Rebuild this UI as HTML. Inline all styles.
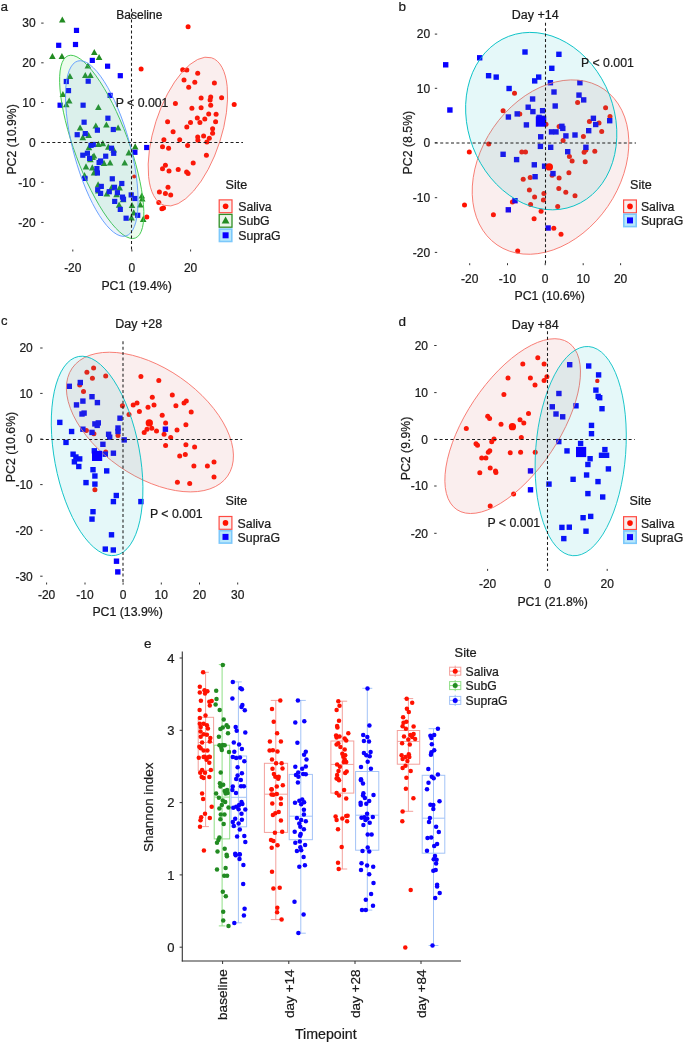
<!DOCTYPE html>
<html><head><meta charset="utf-8"><style>
html,body{margin:0;padding:0;background:#fff;width:685px;height:1043px;overflow:hidden}
text{font-family:"Liberation Sans", sans-serif;stroke:#1a1a1a;stroke-width:0.22px}
</style></head><body>
<svg width="685" height="1043" viewBox="0 0 685 1043" style="position:absolute;left:0;top:0;will-change:transform" font-family='"Liberation Sans", sans-serif'>
<rect width="685" height="1043" fill="#ffffff"/>
<text x="0.6" y="11.0" font-size="13.5" text-anchor="start" fill="#1a1a1a">a</text>
<circle cx="188.1" cy="26.8" r="2.5" fill="#ff1100"/>
<circle cx="141.1" cy="69.1" r="2.5" fill="#ff1100"/>
<circle cx="182.7" cy="69.7" r="2.5" fill="#ff1100"/>
<circle cx="186.8" cy="70.1" r="2.5" fill="#ff1100"/>
<circle cx="197.7" cy="73.2" r="2.5" fill="#ff1100"/>
<circle cx="184.0" cy="80.1" r="2.5" fill="#ff1100"/>
<circle cx="194.8" cy="82.2" r="2.5" fill="#ff1100"/>
<circle cx="214.4" cy="83.0" r="2.5" fill="#ff1100"/>
<circle cx="188.7" cy="87.3" r="2.5" fill="#ff1100"/>
<circle cx="201.1" cy="98.1" r="2.5" fill="#ff1100"/>
<circle cx="210.7" cy="96.9" r="2.5" fill="#ff1100"/>
<circle cx="210.1" cy="100.1" r="2.5" fill="#ff1100"/>
<circle cx="221.6" cy="97.7" r="2.5" fill="#ff1100"/>
<circle cx="234.2" cy="104.4" r="2.5" fill="#ff1100"/>
<circle cx="175.4" cy="103.4" r="2.5" fill="#ff1100"/>
<circle cx="210.7" cy="105.2" r="2.5" fill="#ff1100"/>
<circle cx="191.9" cy="108.3" r="2.5" fill="#ff1100"/>
<circle cx="201.1" cy="107.7" r="2.5" fill="#ff1100"/>
<circle cx="208.7" cy="114.0" r="2.5" fill="#ff1100"/>
<circle cx="216.1" cy="114.2" r="2.5" fill="#ff1100"/>
<circle cx="197.3" cy="118.1" r="2.5" fill="#ff1100"/>
<circle cx="204.8" cy="118.9" r="2.5" fill="#ff1100"/>
<circle cx="199.9" cy="122.6" r="2.5" fill="#ff1100"/>
<circle cx="190.5" cy="122.6" r="2.5" fill="#ff1100"/>
<circle cx="167.6" cy="121.8" r="2.5" fill="#ff1100"/>
<circle cx="215.6" cy="121.8" r="2.5" fill="#ff1100"/>
<circle cx="186.8" cy="127.1" r="2.5" fill="#ff1100"/>
<circle cx="212.6" cy="128.8" r="2.5" fill="#ff1100"/>
<circle cx="173.1" cy="131.8" r="2.5" fill="#ff1100"/>
<circle cx="212.6" cy="133.3" r="2.5" fill="#ff1100"/>
<circle cx="197.7" cy="136.9" r="2.5" fill="#ff1100"/>
<circle cx="203.6" cy="135.9" r="2.5" fill="#ff1100"/>
<circle cx="209.3" cy="138.2" r="2.5" fill="#ff1100"/>
<circle cx="163.9" cy="139.8" r="2.5" fill="#ff1100"/>
<circle cx="179.7" cy="139.8" r="2.5" fill="#ff1100"/>
<circle cx="197.9" cy="140.2" r="2.5" fill="#ff1100"/>
<circle cx="206.9" cy="142.0" r="2.5" fill="#ff1100"/>
<circle cx="162.5" cy="146.7" r="2.5" fill="#ff1100"/>
<circle cx="168.6" cy="148.2" r="2.5" fill="#ff1100"/>
<circle cx="187.6" cy="145.5" r="2.5" fill="#ff1100"/>
<circle cx="206.4" cy="155.3" r="2.5" fill="#ff1100"/>
<circle cx="193.2" cy="163.1" r="2.5" fill="#ff1100"/>
<circle cx="165.4" cy="165.2" r="2.5" fill="#ff1100"/>
<circle cx="162.5" cy="168.8" r="2.5" fill="#ff1100"/>
<circle cx="169.0" cy="170.9" r="2.5" fill="#ff1100"/>
<circle cx="178.2" cy="169.4" r="2.5" fill="#ff1100"/>
<circle cx="186.6" cy="171.9" r="2.5" fill="#ff1100"/>
<circle cx="188.1" cy="173.5" r="2.5" fill="#ff1100"/>
<circle cx="168.0" cy="187.2" r="2.5" fill="#ff1100"/>
<circle cx="159.4" cy="191.9" r="2.5" fill="#ff1100"/>
<circle cx="165.4" cy="193.4" r="2.5" fill="#ff1100"/>
<circle cx="170.7" cy="195.0" r="2.5" fill="#ff1100"/>
<circle cx="158.8" cy="202.6" r="2.5" fill="#ff1100"/>
<circle cx="161.9" cy="208.7" r="2.5" fill="#ff1100"/>
<circle cx="163.5" cy="207.9" r="2.5" fill="#ff1100"/>
<circle cx="146.8" cy="216.9" r="2.5" fill="#ff1100"/>
<circle cx="134.2" cy="176.6" r="2.0" fill="#ff1100"/>
<path d="M59.0 22.6L65.6 22.6L62.3 16.4Z" fill="#228b22"/>
<path d="M49.1 59.0L55.7 59.0L52.4 53.0Z" fill="#228b22"/>
<path d="M58.6 59.0L65.2 59.0L61.9 53.0Z" fill="#228b22"/>
<path d="M91.0 55.0L97.6 55.0L94.3 49.0Z" fill="#228b22"/>
<path d="M95.8 60.0L102.4 60.0L99.1 54.0Z" fill="#228b22"/>
<path d="M84.6 68.5L91.2 68.5L87.9 62.5Z" fill="#228b22"/>
<path d="M66.6 79.0L73.2 79.0L69.9 73.0Z" fill="#228b22"/>
<path d="M82.0 78.0L88.6 78.0L85.3 72.0Z" fill="#228b22"/>
<path d="M87.1 78.0L93.7 78.0L90.4 72.0Z" fill="#228b22"/>
<path d="M59.6 97.0L66.2 97.0L62.9 90.9Z" fill="#228b22"/>
<path d="M65.9 103.5L72.5 103.5L69.2 97.5Z" fill="#228b22"/>
<path d="M63.0 107.2L69.6 107.2L66.3 101.2Z" fill="#228b22"/>
<path d="M95.1 110.1L101.7 110.1L98.4 104.0Z" fill="#228b22"/>
<path d="M76.8 130.5L83.4 130.5L80.1 124.4Z" fill="#228b22"/>
<path d="M92.5 128.6L99.1 128.6L95.8 122.5Z" fill="#228b22"/>
<path d="M103.1 127.5L109.7 127.5L106.4 121.5Z" fill="#228b22"/>
<path d="M114.8 130.5L121.4 130.5L118.1 124.4Z" fill="#228b22"/>
<path d="M79.5 140.2L86.1 140.2L82.8 134.1Z" fill="#228b22"/>
<path d="M85.3 138.1L91.9 138.1L88.6 131.9Z" fill="#228b22"/>
<path d="M85.6 150.2L92.2 150.2L88.9 144.1Z" fill="#228b22"/>
<path d="M95.1 146.9L101.7 146.9L98.4 140.8Z" fill="#228b22"/>
<path d="M99.5 146.2L106.1 146.2L102.8 140.0Z" fill="#228b22"/>
<path d="M105.0 149.8L111.6 149.8L108.3 143.6Z" fill="#228b22"/>
<path d="M110.4 152.4L117.0 152.4L113.7 146.2Z" fill="#228b22"/>
<path d="M125.5 155.4L132.1 155.4L128.8 149.2Z" fill="#228b22"/>
<path d="M131.9 149.5L138.5 149.5L135.2 143.3Z" fill="#228b22"/>
<path d="M89.3 160.0L95.9 160.0L92.6 153.8Z" fill="#228b22"/>
<path d="M90.7 158.6L97.3 158.6L94.0 152.4Z" fill="#228b22"/>
<path d="M87.1 162.2L93.7 162.2L90.4 156.0Z" fill="#228b22"/>
<path d="M100.7 165.9L107.3 165.9L104.0 159.8Z" fill="#228b22"/>
<path d="M106.8 165.6L113.4 165.6L110.1 159.4Z" fill="#228b22"/>
<path d="M121.4 165.6L128.0 165.6L124.7 159.4Z" fill="#228b22"/>
<path d="M82.7 169.5L89.3 169.5L86.0 163.3Z" fill="#228b22"/>
<path d="M89.0 170.5L95.6 170.5L92.3 164.3Z" fill="#228b22"/>
<path d="M90.7 175.4L97.3 175.4L94.0 169.2Z" fill="#228b22"/>
<path d="M81.2 178.2L87.8 178.2L84.5 172.1Z" fill="#228b22"/>
<path d="M94.8 187.5L101.4 187.5L98.1 181.3Z" fill="#228b22"/>
<path d="M95.1 193.6L101.7 193.6L98.4 187.4Z" fill="#228b22"/>
<path d="M103.6 196.5L110.2 196.5L106.9 190.3Z" fill="#228b22"/>
<path d="M108.2 190.4L114.8 190.4L111.5 184.2Z" fill="#228b22"/>
<path d="M116.3 190.4L122.9 190.4L119.6 184.2Z" fill="#228b22"/>
<path d="M113.3 197.2L119.9 197.2L116.6 191.1Z" fill="#228b22"/>
<path d="M119.8 202.2L126.4 202.2L123.1 196.1Z" fill="#228b22"/>
<path d="M115.8 207.8L122.4 207.8L119.1 201.6Z" fill="#228b22"/>
<path d="M138.5 198.6L145.1 198.6L141.8 192.4Z" fill="#228b22"/>
<path d="M138.9 201.6L145.5 201.6L142.2 195.4Z" fill="#228b22"/>
<path d="M137.0 207.4L143.6 207.4L140.3 201.2Z" fill="#228b22"/>
<path d="M128.7 208.1L135.3 208.1L132.0 201.9Z" fill="#228b22"/>
<path d="M130.4 215.4L137.0 215.4L133.7 209.2Z" fill="#228b22"/>
<path d="M128.2 220.5L134.8 220.5L131.5 214.3Z" fill="#228b22"/>
<path d="M139.9 222.0L146.5 222.0L143.2 215.8Z" fill="#228b22"/>
<rect x="73.9" y="27.8" width="5.2" height="5.2" fill="#0a00ff"/>
<rect x="56.1" y="42.7" width="5.2" height="5.2" fill="#0a00ff"/>
<rect x="72.9" y="41.9" width="5.2" height="5.2" fill="#0a00ff"/>
<rect x="89.7" y="57.8" width="5.2" height="5.2" fill="#0a00ff"/>
<rect x="105.0" y="63.6" width="5.2" height="5.2" fill="#0a00ff"/>
<rect x="117.7" y="73.1" width="5.2" height="5.2" fill="#0a00ff"/>
<rect x="63.7" y="78.9" width="5.2" height="5.2" fill="#0a00ff"/>
<rect x="85.6" y="78.6" width="5.2" height="5.2" fill="#0a00ff"/>
<rect x="65.9" y="88.0" width="5.2" height="5.2" fill="#0a00ff"/>
<rect x="107.5" y="92.8" width="5.2" height="5.2" fill="#0a00ff"/>
<rect x="57.5" y="102.6" width="5.2" height="5.2" fill="#0a00ff"/>
<rect x="80.5" y="102.6" width="5.2" height="5.2" fill="#0a00ff"/>
<rect x="105.3" y="115.6" width="5.2" height="5.2" fill="#0a00ff"/>
<rect x="81.5" y="119.6" width="5.2" height="5.2" fill="#0a00ff"/>
<rect x="94.8" y="127.6" width="5.2" height="5.2" fill="#0a00ff"/>
<rect x="110.7" y="126.9" width="5.2" height="5.2" fill="#0a00ff"/>
<rect x="74.6" y="132.1" width="5.2" height="5.2" fill="#0a00ff"/>
<rect x="82.7" y="131.0" width="5.2" height="5.2" fill="#0a00ff"/>
<rect x="90.7" y="141.9" width="5.2" height="5.2" fill="#0a00ff"/>
<rect x="88.5" y="142.7" width="5.2" height="5.2" fill="#0a00ff"/>
<rect x="108.9" y="145.6" width="5.2" height="5.2" fill="#0a00ff"/>
<rect x="111.1" y="150.7" width="5.2" height="5.2" fill="#0a00ff"/>
<rect x="80.2" y="152.6" width="5.2" height="5.2" fill="#0a00ff"/>
<rect x="84.8" y="150.7" width="5.2" height="5.2" fill="#0a00ff"/>
<rect x="87.0" y="155.8" width="5.2" height="5.2" fill="#0a00ff"/>
<rect x="103.1" y="153.6" width="5.2" height="5.2" fill="#0a00ff"/>
<rect x="96.5" y="159.9" width="5.2" height="5.2" fill="#0a00ff"/>
<rect x="98.0" y="158.4" width="5.2" height="5.2" fill="#0a00ff"/>
<rect x="94.3" y="166.0" width="5.2" height="5.2" fill="#0a00ff"/>
<rect x="94.8" y="170.4" width="5.2" height="5.2" fill="#0a00ff"/>
<rect x="132.3" y="149.7" width="5.2" height="5.2" fill="#0a00ff"/>
<rect x="82.4" y="175.8" width="5.2" height="5.2" fill="#0a00ff"/>
<rect x="109.7" y="176.2" width="5.2" height="5.2" fill="#0a00ff"/>
<rect x="119.2" y="180.9" width="5.2" height="5.2" fill="#0a00ff"/>
<rect x="98.7" y="183.8" width="5.2" height="5.2" fill="#0a00ff"/>
<rect x="111.9" y="184.7" width="5.2" height="5.2" fill="#0a00ff"/>
<rect x="95.1" y="187.2" width="5.2" height="5.2" fill="#0a00ff"/>
<rect x="98.0" y="190.8" width="5.2" height="5.2" fill="#0a00ff"/>
<rect x="106.7" y="189.1" width="5.2" height="5.2" fill="#0a00ff"/>
<rect x="114.8" y="190.1" width="5.2" height="5.2" fill="#0a00ff"/>
<rect x="119.9" y="194.5" width="5.2" height="5.2" fill="#0a00ff"/>
<rect x="128.6" y="192.3" width="5.2" height="5.2" fill="#0a00ff"/>
<rect x="132.3" y="195.9" width="5.2" height="5.2" fill="#0a00ff"/>
<rect x="120.9" y="196.6" width="5.2" height="5.2" fill="#0a00ff"/>
<rect x="112.1" y="198.8" width="5.2" height="5.2" fill="#0a00ff"/>
<rect x="117.7" y="206.8" width="5.2" height="5.2" fill="#0a00ff"/>
<rect x="123.5" y="215.6" width="5.2" height="5.2" fill="#0a00ff"/>
<rect x="135.1" y="212.7" width="5.2" height="5.2" fill="#0a00ff"/>
<rect x="144.1" y="144.9" width="5.2" height="5.2" fill="#0a00ff"/>
<ellipse cx="187.88" cy="131.55" rx="77.47" ry="33.49" transform="rotate(107.83 187.88 131.55)" fill="#cd5555" fill-opacity="0.1" stroke="#F8766D" stroke-width="0.85"/>
<ellipse cx="101.73" cy="146.89" rx="97.15" ry="27.12" transform="rotate(69.78 101.73 146.89)" fill="#41e141" fill-opacity="0.1" stroke="#3cc84a" stroke-width="0.85"/>
<ellipse cx="101.80" cy="148.52" rx="28.25" ry="90.73" transform="rotate(164.66 101.80 148.52)" fill="#4187e1" fill-opacity="0.1" stroke="#619CFF" stroke-width="0.85"/>
<line x1="41.5" y1="142.5" x2="243" y2="142.5" stroke="#1e1e1e" stroke-width="1.05" stroke-dasharray="3 2.4"/>
<line x1="131.5" y1="8.8" x2="131.5" y2="251.5" stroke="#1e1e1e" stroke-width="1.05" stroke-dasharray="3 2.4"/>
<text x="139.3" y="19.4" font-size="12" text-anchor="middle" fill="#1a1a1a">Baseline</text>
<text x="115.7" y="106.8" font-size="12.3" text-anchor="start" fill="#1a1a1a">P &lt; 0.001</text>
<line x1="41.2" y1="23.1" x2="43.6" y2="23.1" stroke="#333" stroke-width="1"/>
<text x="35.6" y="27.4" font-size="12" text-anchor="end" fill="#1a1a1a">30</text>
<line x1="41.2" y1="62.8" x2="43.6" y2="62.8" stroke="#333" stroke-width="1"/>
<text x="35.6" y="67.1" font-size="12" text-anchor="end" fill="#1a1a1a">20</text>
<line x1="41.2" y1="102.5" x2="43.6" y2="102.5" stroke="#333" stroke-width="1"/>
<text x="35.6" y="106.8" font-size="12" text-anchor="end" fill="#1a1a1a">10</text>
<line x1="41.2" y1="142.4" x2="43.6" y2="142.4" stroke="#333" stroke-width="1"/>
<text x="35.6" y="146.7" font-size="12" text-anchor="end" fill="#1a1a1a">0</text>
<line x1="41.2" y1="182.3" x2="43.6" y2="182.3" stroke="#333" stroke-width="1"/>
<text x="35.6" y="186.6" font-size="12" text-anchor="end" fill="#1a1a1a">-10</text>
<line x1="41.2" y1="222.4" x2="43.6" y2="222.4" stroke="#333" stroke-width="1"/>
<text x="35.6" y="226.7" font-size="12" text-anchor="end" fill="#1a1a1a">-20</text>
<line x1="72.8" y1="249.5" x2="72.8" y2="251.5" stroke="#333" stroke-width="1"/>
<text x="72.8" y="271.5" font-size="12" text-anchor="middle" fill="#1a1a1a">-20</text>
<line x1="131.9" y1="249.5" x2="131.9" y2="251.5" stroke="#333" stroke-width="1"/>
<text x="131.9" y="271.5" font-size="12" text-anchor="middle" fill="#1a1a1a">0</text>
<line x1="190.6" y1="249.5" x2="190.6" y2="251.5" stroke="#333" stroke-width="1"/>
<text x="190.6" y="271.5" font-size="12" text-anchor="middle" fill="#1a1a1a">20</text>
<text x="136.6" y="290.2" font-size="12.3" text-anchor="middle" fill="#1a1a1a">PC1 (19.4%)</text>
<text x="16.4" y="139.4" font-size="12.3" text-anchor="middle" fill="#1a1a1a" transform="rotate(-90 16.4 139.4)">PC2 (10.9%)</text>
<text x="225.6" y="189.0" font-size="12.6" text-anchor="start" fill="#1a1a1a">Site</text>
<rect x="219.2" y="199.9" width="12.8" height="12.8" fill="#f8eeee" stroke="#ff4a42" stroke-width="1.2"/>
<circle cx="225.6" cy="206.3" r="2.8" fill="#ff1100"/>
<text x="238.2" y="210.9" font-size="12.3" text-anchor="start" fill="#1a1a1a">Saliva</text>
<rect x="219.2" y="214.4" width="12.8" height="12.8" fill="#ebf5e9" stroke="#2f8f25" stroke-width="1.3"/>
<path d="M221.7 223.5L229.5 223.5L225.6 216.5Z" fill="#228b22"/>
<text x="238.2" y="225.4" font-size="12.3" text-anchor="start" fill="#1a1a1a">SubG</text>
<rect x="219.4" y="229.1" width="12.4" height="12.4" fill="#b8e8fb" stroke="#7cc8fb" stroke-width="1.6"/>
<rect x="222.6" y="232.3" width="6" height="6" fill="#0a00ff"/>
<text x="238.2" y="239.9" font-size="12.3" text-anchor="start" fill="#1a1a1a">SupraG</text>
<text x="398.6" y="11.0" font-size="13.5" text-anchor="start" fill="#1a1a1a">b</text>
<circle cx="514.5" cy="93.2" r="2.5" fill="#ff1100"/>
<circle cx="503.1" cy="110.7" r="2.5" fill="#ff1100"/>
<circle cx="519.8" cy="113.9" r="2.5" fill="#ff1100"/>
<circle cx="577.6" cy="102.5" r="2.5" fill="#ff1100"/>
<circle cx="605.6" cy="107.7" r="2.5" fill="#ff1100"/>
<circle cx="610.0" cy="116.5" r="2.5" fill="#ff1100"/>
<circle cx="546.0" cy="124.2" r="2.5" fill="#ff1100"/>
<circle cx="559.1" cy="126.6" r="2.5" fill="#ff1100"/>
<circle cx="488.7" cy="144.1" r="2.5" fill="#ff1100"/>
<circle cx="469.3" cy="151.9" r="2.5" fill="#ff1100"/>
<circle cx="521.8" cy="152.0" r="2.5" fill="#ff1100"/>
<circle cx="525.5" cy="152.0" r="2.5" fill="#ff1100"/>
<circle cx="523.2" cy="179.2" r="2.5" fill="#ff1100"/>
<circle cx="530.2" cy="177.6" r="2.5" fill="#ff1100"/>
<circle cx="552.1" cy="175.3" r="2.5" fill="#ff1100"/>
<circle cx="559.1" cy="178.0" r="2.5" fill="#ff1100"/>
<circle cx="529.4" cy="189.9" r="2.5" fill="#ff1100"/>
<circle cx="534.6" cy="196.9" r="2.5" fill="#ff1100"/>
<circle cx="543.9" cy="193.4" r="2.5" fill="#ff1100"/>
<circle cx="543.4" cy="199.9" r="2.5" fill="#ff1100"/>
<circle cx="558.8" cy="188.5" r="2.5" fill="#ff1100"/>
<circle cx="512.4" cy="202.1" r="2.5" fill="#ff1100"/>
<circle cx="530.6" cy="204.6" r="2.5" fill="#ff1100"/>
<circle cx="464.5" cy="205.1" r="2.5" fill="#ff1100"/>
<circle cx="541.1" cy="211.2" r="2.5" fill="#ff1100"/>
<circle cx="557.7" cy="206.5" r="2.5" fill="#ff1100"/>
<circle cx="493.4" cy="214.8" r="2.5" fill="#ff1100"/>
<circle cx="534.1" cy="218.8" r="2.5" fill="#ff1100"/>
<circle cx="589.4" cy="121.4" r="2.5" fill="#ff1100"/>
<circle cx="599.0" cy="123.1" r="2.5" fill="#ff1100"/>
<circle cx="601.7" cy="131.5" r="2.5" fill="#ff1100"/>
<circle cx="583.4" cy="136.4" r="2.5" fill="#ff1100"/>
<circle cx="563.1" cy="140.6" r="2.5" fill="#ff1100"/>
<circle cx="585.9" cy="149.9" r="2.5" fill="#ff1100"/>
<circle cx="584.1" cy="152.2" r="2.5" fill="#ff1100"/>
<circle cx="594.8" cy="151.2" r="2.5" fill="#ff1100"/>
<circle cx="569.4" cy="156.4" r="2.5" fill="#ff1100"/>
<circle cx="572.1" cy="161.0" r="2.5" fill="#ff1100"/>
<circle cx="585.2" cy="161.8" r="2.5" fill="#ff1100"/>
<circle cx="568.9" cy="172.7" r="2.5" fill="#ff1100"/>
<circle cx="565.8" cy="192.3" r="2.5" fill="#ff1100"/>
<circle cx="575.0" cy="195.7" r="2.5" fill="#ff1100"/>
<circle cx="553.8" cy="228.2" r="2.5" fill="#ff1100"/>
<circle cx="561.0" cy="234.3" r="2.5" fill="#ff1100"/>
<circle cx="517.7" cy="251.1" r="2.5" fill="#ff1100"/>
<rect x="443.0" y="62.1" width="5.4" height="5.4" fill="#0a00ff"/>
<rect x="477.0" y="55.1" width="5.4" height="5.4" fill="#0a00ff"/>
<rect x="485.9" y="73.0" width="5.4" height="5.4" fill="#0a00ff"/>
<rect x="493.5" y="74.4" width="5.4" height="5.4" fill="#0a00ff"/>
<rect x="506.4" y="85.8" width="5.4" height="5.4" fill="#0a00ff"/>
<rect x="447.2" y="107.3" width="5.4" height="5.4" fill="#0a00ff"/>
<rect x="522.3" y="49.3" width="5.4" height="5.4" fill="#0a00ff"/>
<rect x="556.2" y="51.6" width="5.4" height="5.4" fill="#0a00ff"/>
<rect x="549.1" y="65.6" width="5.4" height="5.4" fill="#0a00ff"/>
<rect x="536.0" y="74.4" width="5.4" height="5.4" fill="#0a00ff"/>
<rect x="532.0" y="78.2" width="5.4" height="5.4" fill="#0a00ff"/>
<rect x="547.7" y="80.0" width="5.4" height="5.4" fill="#0a00ff"/>
<rect x="577.2" y="80.0" width="5.4" height="5.4" fill="#0a00ff"/>
<rect x="551.3" y="89.3" width="5.4" height="5.4" fill="#0a00ff"/>
<rect x="576.3" y="92.4" width="5.4" height="5.4" fill="#0a00ff"/>
<rect x="581.0" y="97.2" width="5.4" height="5.4" fill="#0a00ff"/>
<rect x="529.9" y="96.3" width="5.4" height="5.4" fill="#0a00ff"/>
<rect x="552.5" y="103.3" width="5.4" height="5.4" fill="#0a00ff"/>
<rect x="525.5" y="104.5" width="5.4" height="5.4" fill="#0a00ff"/>
<rect x="530.2" y="108.9" width="5.4" height="5.4" fill="#0a00ff"/>
<rect x="539.9" y="108.0" width="5.4" height="5.4" fill="#0a00ff"/>
<rect x="514.5" y="111.2" width="5.4" height="5.4" fill="#0a00ff"/>
<rect x="505.7" y="114.3" width="5.4" height="5.4" fill="#0a00ff"/>
<rect x="536.4" y="114.7" width="5.4" height="5.4" fill="#0a00ff"/>
<rect x="540.7" y="115.6" width="5.4" height="5.4" fill="#0a00ff"/>
<rect x="590.7" y="115.6" width="5.4" height="5.4" fill="#0a00ff"/>
<rect x="523.7" y="122.2" width="5.4" height="5.4" fill="#0a00ff"/>
<rect x="548.8" y="129.2" width="5.4" height="5.4" fill="#0a00ff"/>
<rect x="553.3" y="129.2" width="5.4" height="5.4" fill="#0a00ff"/>
<rect x="538.0" y="134.1" width="5.4" height="5.4" fill="#0a00ff"/>
<rect x="537.7" y="143.7" width="5.4" height="5.4" fill="#0a00ff"/>
<rect x="548.0" y="144.6" width="5.4" height="5.4" fill="#0a00ff"/>
<rect x="500.4" y="151.6" width="5.4" height="5.4" fill="#0a00ff"/>
<rect x="513.9" y="156.9" width="5.4" height="5.4" fill="#0a00ff"/>
<rect x="531.6" y="162.1" width="5.4" height="5.4" fill="#0a00ff"/>
<rect x="541.9" y="163.5" width="5.4" height="5.4" fill="#0a00ff"/>
<rect x="550.3" y="170.9" width="5.4" height="5.4" fill="#0a00ff"/>
<rect x="532.4" y="174.0" width="5.4" height="5.4" fill="#0a00ff"/>
<rect x="512.3" y="198.0" width="5.4" height="5.4" fill="#0a00ff"/>
<rect x="505.6" y="207.1" width="5.4" height="5.4" fill="#0a00ff"/>
<rect x="593.0" y="121.8" width="5.4" height="5.4" fill="#0a00ff"/>
<rect x="607.0" y="118.0" width="5.4" height="5.4" fill="#0a00ff"/>
<rect x="559.2" y="123.6" width="5.4" height="5.4" fill="#0a00ff"/>
<rect x="560.1" y="125.7" width="5.4" height="5.4" fill="#0a00ff"/>
<rect x="563.2" y="133.2" width="5.4" height="5.4" fill="#0a00ff"/>
<rect x="572.3" y="132.3" width="5.4" height="5.4" fill="#0a00ff"/>
<rect x="586.0" y="128.0" width="5.4" height="5.4" fill="#0a00ff"/>
<rect x="565.0" y="149.0" width="5.4" height="5.4" fill="#0a00ff"/>
<rect x="583.2" y="144.6" width="5.4" height="5.4" fill="#0a00ff"/>
<rect x="545.4" y="225.3" width="5.4" height="5.4" fill="#0a00ff"/>
<ellipse cx="550.51" cy="167.08" rx="69.47" ry="94.40" transform="rotate(34.47 550.51 167.08)" fill="#cd5555" fill-opacity="0.1" stroke="#F8766D" stroke-width="0.85"/>
<ellipse cx="541.22" cy="121.12" rx="90.81" ry="73.10" transform="rotate(68.92 541.22 121.12)" fill="#00BFC4" fill-opacity="0.1" stroke="#00BFC4" stroke-width="0.85"/>
<rect x="535.8" y="116.3" width="10.4" height="10.4" fill="#0a00ff"/>
<circle cx="549.3" cy="166.9" r="3.7" fill="#ff1100"/>
<line x1="434.8" y1="143.0" x2="636" y2="143.0" stroke="#1e1e1e" stroke-width="1.05" stroke-dasharray="3 2.4"/>
<line x1="545.5" y1="22.8" x2="545.5" y2="265.4" stroke="#1e1e1e" stroke-width="1.05" stroke-dasharray="3 2.4"/>
<text x="535.2" y="19.3" font-size="12.5" text-anchor="middle" fill="#1a1a1a">Day +14</text>
<text x="581.1" y="66.9" font-size="12.3" text-anchor="start" fill="#1a1a1a">P &lt; 0.001</text>
<line x1="434.8" y1="34.1" x2="437.2" y2="34.1" stroke="#333" stroke-width="1"/>
<text x="430.2" y="38.4" font-size="12" text-anchor="end" fill="#1a1a1a">20</text>
<line x1="434.8" y1="88.3" x2="437.2" y2="88.3" stroke="#333" stroke-width="1"/>
<text x="430.2" y="92.6" font-size="12" text-anchor="end" fill="#1a1a1a">10</text>
<line x1="434.8" y1="142.7" x2="437.2" y2="142.7" stroke="#333" stroke-width="1"/>
<text x="430.2" y="147.0" font-size="12" text-anchor="end" fill="#1a1a1a">0</text>
<line x1="434.8" y1="197.7" x2="437.2" y2="197.7" stroke="#333" stroke-width="1"/>
<text x="430.2" y="202.0" font-size="12" text-anchor="end" fill="#1a1a1a">-10</text>
<line x1="434.8" y1="252.4" x2="437.2" y2="252.4" stroke="#333" stroke-width="1"/>
<text x="430.2" y="256.7" font-size="12" text-anchor="end" fill="#1a1a1a">-20</text>
<line x1="469.7" y1="263.2" x2="469.7" y2="265.2" stroke="#333" stroke-width="1"/>
<text x="469.7" y="282.5" font-size="12" text-anchor="middle" fill="#1a1a1a">-20</text>
<line x1="507.5" y1="263.2" x2="507.5" y2="265.2" stroke="#333" stroke-width="1"/>
<text x="507.5" y="282.5" font-size="12" text-anchor="middle" fill="#1a1a1a">-10</text>
<line x1="545.2" y1="263.2" x2="545.2" y2="265.2" stroke="#333" stroke-width="1"/>
<text x="545.2" y="282.5" font-size="12" text-anchor="middle" fill="#1a1a1a">0</text>
<line x1="583.2" y1="263.2" x2="583.2" y2="265.2" stroke="#333" stroke-width="1"/>
<text x="583.2" y="282.5" font-size="12" text-anchor="middle" fill="#1a1a1a">10</text>
<line x1="620.6" y1="263.2" x2="620.6" y2="265.2" stroke="#333" stroke-width="1"/>
<text x="620.6" y="282.5" font-size="12" text-anchor="middle" fill="#1a1a1a">20</text>
<text x="549.7" y="299.9" font-size="12.3" text-anchor="middle" fill="#1a1a1a">PC1 (10.6%)</text>
<text x="411.6" y="142.6" font-size="12.3" text-anchor="middle" fill="#1a1a1a" transform="rotate(-90 411.6 142.6)">PC2 (8.5%)</text>
<text x="630.0" y="188.5" font-size="12.6" text-anchor="start" fill="#1a1a1a">Site</text>
<rect x="623.6" y="200.0" width="12.8" height="12.8" fill="#f8eeee" stroke="#ff4a42" stroke-width="1.2"/>
<circle cx="630.0" cy="206.4" r="2.8" fill="#ff1100"/>
<text x="640.9" y="211.0" font-size="12.3" text-anchor="start" fill="#1a1a1a">Saliva</text>
<rect x="623.8" y="214.2" width="12.4" height="12.4" fill="#b8e8fb" stroke="#7cc8fb" stroke-width="1.6"/>
<rect x="627.0" y="217.4" width="6" height="6" fill="#0a00ff"/>
<text x="640.9" y="225.0" font-size="12.3" text-anchor="start" fill="#1a1a1a">SupraG</text>
<text x="0.9" y="325.2" font-size="13" text-anchor="start" fill="#1a1a1a">c</text>
<circle cx="93.6" cy="367.9" r="2.5" fill="#ff1100"/>
<circle cx="86.9" cy="372.3" r="2.5" fill="#ff1100"/>
<circle cx="92.4" cy="378.3" r="2.5" fill="#ff1100"/>
<circle cx="105.7" cy="375.9" r="2.5" fill="#ff1100"/>
<circle cx="79.7" cy="385.0" r="2.5" fill="#ff1100"/>
<circle cx="83.5" cy="391.6" r="2.5" fill="#ff1100"/>
<circle cx="122.4" cy="405.8" r="2.5" fill="#ff1100"/>
<circle cx="129.0" cy="414.4" r="2.5" fill="#ff1100"/>
<circle cx="86.4" cy="430.5" r="2.5" fill="#ff1100"/>
<circle cx="93.9" cy="433.7" r="2.5" fill="#ff1100"/>
<circle cx="118.0" cy="435.6" r="2.5" fill="#ff1100"/>
<circle cx="140.9" cy="376.4" r="2.5" fill="#ff1100"/>
<circle cx="158.8" cy="380.6" r="2.5" fill="#ff1100"/>
<circle cx="172.3" cy="395.0" r="2.5" fill="#ff1100"/>
<circle cx="152.3" cy="397.3" r="2.5" fill="#ff1100"/>
<circle cx="133.2" cy="404.9" r="2.5" fill="#ff1100"/>
<circle cx="137.0" cy="403.0" r="2.5" fill="#ff1100"/>
<circle cx="148.0" cy="407.2" r="2.5" fill="#ff1100"/>
<circle cx="154.0" cy="404.9" r="2.5" fill="#ff1100"/>
<circle cx="175.9" cy="405.8" r="2.5" fill="#ff1100"/>
<circle cx="184.0" cy="403.0" r="2.5" fill="#ff1100"/>
<circle cx="186.3" cy="401.1" r="2.5" fill="#ff1100"/>
<circle cx="191.2" cy="412.1" r="2.5" fill="#ff1100"/>
<circle cx="139.4" cy="411.5" r="2.5" fill="#ff1100"/>
<circle cx="162.2" cy="415.3" r="2.5" fill="#ff1100"/>
<circle cx="165.6" cy="422.9" r="2.5" fill="#ff1100"/>
<circle cx="185.9" cy="424.8" r="2.5" fill="#ff1100"/>
<circle cx="147.0" cy="429.2" r="2.5" fill="#ff1100"/>
<circle cx="151.8" cy="428.2" r="2.5" fill="#ff1100"/>
<circle cx="156.5" cy="430.9" r="2.5" fill="#ff1100"/>
<circle cx="144.2" cy="432.4" r="2.5" fill="#ff1100"/>
<circle cx="177.0" cy="430.0" r="2.5" fill="#ff1100"/>
<circle cx="164.1" cy="434.3" r="2.5" fill="#ff1100"/>
<circle cx="170.7" cy="437.5" r="2.5" fill="#ff1100"/>
<circle cx="165.6" cy="445.6" r="2.5" fill="#ff1100"/>
<circle cx="185.9" cy="444.7" r="2.5" fill="#ff1100"/>
<circle cx="194.6" cy="447.0" r="2.5" fill="#ff1100"/>
<circle cx="179.7" cy="456.1" r="2.5" fill="#ff1100"/>
<circle cx="185.3" cy="454.5" r="2.5" fill="#ff1100"/>
<circle cx="193.9" cy="466.1" r="2.5" fill="#ff1100"/>
<circle cx="207.4" cy="465.9" r="2.5" fill="#ff1100"/>
<circle cx="214.0" cy="462.1" r="2.5" fill="#ff1100"/>
<circle cx="214.0" cy="476.9" r="2.5" fill="#ff1100"/>
<circle cx="177.4" cy="482.3" r="2.5" fill="#ff1100"/>
<circle cx="189.7" cy="483.6" r="2.5" fill="#ff1100"/>
<circle cx="105.7" cy="451.9" r="2.5" fill="#ff1100"/>
<circle cx="94.9" cy="489.8" r="2.5" fill="#ff1100"/>
<rect x="66.6" y="383.6" width="5.4" height="5.4" fill="#0a00ff"/>
<rect x="77.6" y="379.8" width="5.4" height="5.4" fill="#0a00ff"/>
<rect x="89.3" y="394.0" width="5.4" height="5.4" fill="#0a00ff"/>
<rect x="94.7" y="399.9" width="5.4" height="5.4" fill="#0a00ff"/>
<rect x="80.2" y="398.4" width="5.4" height="5.4" fill="#0a00ff"/>
<rect x="73.8" y="402.2" width="5.4" height="5.4" fill="#0a00ff"/>
<rect x="79.3" y="411.3" width="5.4" height="5.4" fill="#0a00ff"/>
<rect x="81.4" y="410.4" width="5.4" height="5.4" fill="#0a00ff"/>
<rect x="57.1" y="419.7" width="5.4" height="5.4" fill="#0a00ff"/>
<rect x="92.2" y="421.2" width="5.4" height="5.4" fill="#0a00ff"/>
<rect x="95.6" y="420.2" width="5.4" height="5.4" fill="#0a00ff"/>
<rect x="94.5" y="422.7" width="5.4" height="5.4" fill="#0a00ff"/>
<rect x="117.3" y="415.5" width="5.4" height="5.4" fill="#0a00ff"/>
<rect x="115.3" y="425.3" width="5.4" height="5.4" fill="#0a00ff"/>
<rect x="115.3" y="428.8" width="5.4" height="5.4" fill="#0a00ff"/>
<rect x="68.9" y="428.8" width="5.4" height="5.4" fill="#0a00ff"/>
<rect x="80.2" y="426.5" width="5.4" height="5.4" fill="#0a00ff"/>
<rect x="89.3" y="429.7" width="5.4" height="5.4" fill="#0a00ff"/>
<rect x="105.9" y="431.6" width="5.4" height="5.4" fill="#0a00ff"/>
<rect x="107.0" y="434.5" width="5.4" height="5.4" fill="#0a00ff"/>
<rect x="162.7" y="426.5" width="5.4" height="5.4" fill="#0a00ff"/>
<rect x="121.5" y="437.2" width="5.4" height="5.4" fill="#0a00ff"/>
<rect x="110.7" y="450.5" width="5.4" height="5.4" fill="#0a00ff"/>
<rect x="113.6" y="492.8" width="5.4" height="5.4" fill="#0a00ff"/>
<rect x="110.7" y="498.9" width="5.4" height="5.4" fill="#0a00ff"/>
<rect x="138.2" y="498.9" width="5.4" height="5.4" fill="#0a00ff"/>
<rect x="108.8" y="532.1" width="5.4" height="5.4" fill="#0a00ff"/>
<rect x="63.3" y="439.7" width="5.4" height="5.4" fill="#0a00ff"/>
<rect x="100.2" y="441.6" width="5.4" height="5.4" fill="#0a00ff"/>
<rect x="70.4" y="451.5" width="5.4" height="5.4" fill="#0a00ff"/>
<rect x="73.2" y="454.3" width="5.4" height="5.4" fill="#0a00ff"/>
<rect x="77.0" y="456.2" width="5.4" height="5.4" fill="#0a00ff"/>
<rect x="71.7" y="459.1" width="5.4" height="5.4" fill="#0a00ff"/>
<rect x="76.1" y="463.8" width="5.4" height="5.4" fill="#0a00ff"/>
<rect x="92.2" y="454.3" width="5.4" height="5.4" fill="#0a00ff"/>
<rect x="102.6" y="451.5" width="5.4" height="5.4" fill="#0a00ff"/>
<rect x="90.3" y="467.0" width="5.4" height="5.4" fill="#0a00ff"/>
<rect x="104.0" y="468.2" width="5.4" height="5.4" fill="#0a00ff"/>
<rect x="92.2" y="473.3" width="5.4" height="5.4" fill="#0a00ff"/>
<rect x="83.3" y="479.9" width="5.4" height="5.4" fill="#0a00ff"/>
<rect x="92.2" y="481.4" width="5.4" height="5.4" fill="#0a00ff"/>
<rect x="90.3" y="509.0" width="5.4" height="5.4" fill="#0a00ff"/>
<rect x="89.3" y="516.4" width="5.4" height="5.4" fill="#0a00ff"/>
<rect x="102.6" y="546.4" width="5.4" height="5.4" fill="#0a00ff"/>
<rect x="110.6" y="547.3" width="5.4" height="5.4" fill="#0a00ff"/>
<rect x="113.8" y="558.5" width="5.4" height="5.4" fill="#0a00ff"/>
<rect x="115.1" y="569.2" width="5.4" height="5.4" fill="#0a00ff"/>
<rect x="91.6" y="448.1" width="5.4" height="5.4" fill="#0a00ff"/>
<ellipse cx="149.91" cy="422.06" rx="94.61" ry="53.90" transform="rotate(34.83 149.91 422.06)" fill="#cd5555" fill-opacity="0.1" stroke="#F8766D" stroke-width="0.85"/>
<ellipse cx="97.10" cy="455.92" rx="101.14" ry="42.62" transform="rotate(79.43 97.10 455.92)" fill="#00BFC4" fill-opacity="0.1" stroke="#00BFC4" stroke-width="0.85"/>
<rect x="92.0" y="450.8" width="10.2" height="10.2" fill="#0a00ff"/>
<circle cx="149.3" cy="422.9" r="3.65" fill="#ff1100"/>
<line x1="40.5" y1="439.5" x2="242.2" y2="439.5" stroke="#1e1e1e" stroke-width="1.05" stroke-dasharray="3 2.4"/>
<line x1="123.0" y1="341.3" x2="123.0" y2="584.6" stroke="#1e1e1e" stroke-width="1.05" stroke-dasharray="3 2.4"/>
<text x="138.7" y="328.4" font-size="12.5" text-anchor="middle" fill="#1a1a1a">Day +28</text>
<text x="149.9" y="518.1" font-size="12.3" text-anchor="start" fill="#1a1a1a">P &lt; 0.001</text>
<line x1="40.2" y1="348" x2="42.6" y2="348" stroke="#333" stroke-width="1"/>
<text x="32.8" y="352.3" font-size="12" text-anchor="end" fill="#1a1a1a">20</text>
<line x1="40.2" y1="393.4" x2="42.6" y2="393.4" stroke="#333" stroke-width="1"/>
<text x="32.8" y="397.7" font-size="12" text-anchor="end" fill="#1a1a1a">10</text>
<line x1="40.2" y1="439" x2="42.6" y2="439" stroke="#333" stroke-width="1"/>
<text x="32.8" y="443.3" font-size="12" text-anchor="end" fill="#1a1a1a">0</text>
<line x1="40.2" y1="484.6" x2="42.6" y2="484.6" stroke="#333" stroke-width="1"/>
<text x="32.8" y="488.9" font-size="12" text-anchor="end" fill="#1a1a1a">-10</text>
<line x1="40.2" y1="530.3" x2="42.6" y2="530.3" stroke="#333" stroke-width="1"/>
<text x="32.8" y="534.6" font-size="12" text-anchor="end" fill="#1a1a1a">-20</text>
<line x1="40.2" y1="576.2" x2="42.6" y2="576.2" stroke="#333" stroke-width="1"/>
<text x="32.8" y="580.5" font-size="12" text-anchor="end" fill="#1a1a1a">-30</text>
<line x1="46.6" y1="582.5" x2="46.6" y2="584.5" stroke="#333" stroke-width="1"/>
<text x="46.6" y="598.8" font-size="12" text-anchor="middle" fill="#1a1a1a">-20</text>
<line x1="85" y1="582.5" x2="85" y2="584.5" stroke="#333" stroke-width="1"/>
<text x="85.0" y="598.8" font-size="12" text-anchor="middle" fill="#1a1a1a">-10</text>
<line x1="123.1" y1="582.5" x2="123.1" y2="584.5" stroke="#333" stroke-width="1"/>
<text x="123.1" y="598.8" font-size="12" text-anchor="middle" fill="#1a1a1a">0</text>
<line x1="161.3" y1="582.5" x2="161.3" y2="584.5" stroke="#333" stroke-width="1"/>
<text x="161.3" y="598.8" font-size="12" text-anchor="middle" fill="#1a1a1a">10</text>
<line x1="199.5" y1="582.5" x2="199.5" y2="584.5" stroke="#333" stroke-width="1"/>
<text x="199.5" y="598.8" font-size="12" text-anchor="middle" fill="#1a1a1a">20</text>
<line x1="237.7" y1="582.5" x2="237.7" y2="584.5" stroke="#333" stroke-width="1"/>
<text x="237.7" y="598.8" font-size="12" text-anchor="middle" fill="#1a1a1a">30</text>
<text x="127.6" y="616.2" font-size="12.3" text-anchor="middle" fill="#1a1a1a">PC1 (13.9%)</text>
<text x="15.4" y="447.0" font-size="12.3" text-anchor="middle" fill="#1a1a1a" transform="rotate(-90 15.4 447.0)">PC2 (10.6%)</text>
<text x="225.6" y="504.8" font-size="12.6" text-anchor="start" fill="#1a1a1a">Site</text>
<rect x="219.1" y="516.5" width="12.8" height="12.8" fill="#f8eeee" stroke="#ff4a42" stroke-width="1.2"/>
<circle cx="225.5" cy="522.9" r="2.8" fill="#ff1100"/>
<text x="237.6" y="527.5" font-size="12.3" text-anchor="start" fill="#1a1a1a">Saliva</text>
<rect x="219.3" y="530.7" width="12.4" height="12.4" fill="#b8e8fb" stroke="#7cc8fb" stroke-width="1.6"/>
<rect x="222.5" y="533.9" width="6" height="6" fill="#0a00ff"/>
<text x="237.6" y="541.5" font-size="12.3" text-anchor="start" fill="#1a1a1a">SupraG</text>
<text x="398.6" y="325.8" font-size="13.5" text-anchor="start" fill="#1a1a1a">d</text>
<circle cx="508.0" cy="377.9" r="2.5" fill="#ff1100"/>
<circle cx="503.9" cy="394.5" r="2.5" fill="#ff1100"/>
<circle cx="487.7" cy="416.3" r="2.5" fill="#ff1100"/>
<circle cx="489.6" cy="418.6" r="2.5" fill="#ff1100"/>
<circle cx="501.0" cy="424.3" r="2.5" fill="#ff1100"/>
<circle cx="466.3" cy="428.6" r="2.5" fill="#ff1100"/>
<circle cx="520.0" cy="419.7" r="2.5" fill="#ff1100"/>
<circle cx="494.0" cy="439.0" r="2.5" fill="#ff1100"/>
<circle cx="537.8" cy="357.8" r="2.5" fill="#ff1100"/>
<circle cx="522.8" cy="363.9" r="2.5" fill="#ff1100"/>
<circle cx="544.1" cy="363.9" r="2.5" fill="#ff1100"/>
<circle cx="530.4" cy="377.9" r="2.5" fill="#ff1100"/>
<circle cx="546.9" cy="376.8" r="2.5" fill="#ff1100"/>
<circle cx="544.1" cy="380.6" r="2.5" fill="#ff1100"/>
<circle cx="535.0" cy="385.0" r="2.5" fill="#ff1100"/>
<circle cx="528.5" cy="413.4" r="2.5" fill="#ff1100"/>
<circle cx="523.8" cy="422.9" r="2.5" fill="#ff1100"/>
<circle cx="521.3" cy="437.5" r="2.5" fill="#ff1100"/>
<circle cx="491.7" cy="441.8" r="2.5" fill="#ff1100"/>
<circle cx="476.0" cy="443.7" r="2.5" fill="#ff1100"/>
<circle cx="477.5" cy="445.2" r="2.5" fill="#ff1100"/>
<circle cx="488.3" cy="452.3" r="2.5" fill="#ff1100"/>
<circle cx="489.8" cy="450.7" r="2.5" fill="#ff1100"/>
<circle cx="510.2" cy="452.8" r="2.5" fill="#ff1100"/>
<circle cx="520.6" cy="452.3" r="2.5" fill="#ff1100"/>
<circle cx="535.2" cy="452.3" r="2.5" fill="#ff1100"/>
<circle cx="481.7" cy="458.0" r="2.5" fill="#ff1100"/>
<circle cx="485.9" cy="458.0" r="2.5" fill="#ff1100"/>
<circle cx="490.2" cy="468.0" r="2.5" fill="#ff1100"/>
<circle cx="495.5" cy="470.9" r="2.5" fill="#ff1100"/>
<circle cx="495.9" cy="472.6" r="2.5" fill="#ff1100"/>
<circle cx="479.8" cy="472.8" r="2.5" fill="#ff1100"/>
<circle cx="513.6" cy="494.0" r="2.5" fill="#ff1100"/>
<circle cx="490.2" cy="506.0" r="2.5" fill="#ff1100"/>
<circle cx="597.3" cy="380.9" r="2.2" fill="#ff1100"/>
<rect x="567.0" y="362.0" width="5.4" height="5.4" fill="#0a00ff"/>
<rect x="586.0" y="363.3" width="5.4" height="5.4" fill="#0a00ff"/>
<rect x="595.9" y="372.2" width="5.4" height="5.4" fill="#0a00ff"/>
<rect x="593.2" y="387.4" width="5.4" height="5.4" fill="#0a00ff"/>
<rect x="595.5" y="393.7" width="5.4" height="5.4" fill="#0a00ff"/>
<rect x="597.0" y="395.0" width="5.4" height="5.4" fill="#0a00ff"/>
<rect x="599.3" y="406.0" width="5.4" height="5.4" fill="#0a00ff"/>
<rect x="556.2" y="390.8" width="5.4" height="5.4" fill="#0a00ff"/>
<rect x="549.6" y="404.1" width="5.4" height="5.4" fill="#0a00ff"/>
<rect x="573.3" y="403.1" width="5.4" height="5.4" fill="#0a00ff"/>
<rect x="553.3" y="411.3" width="5.4" height="5.4" fill="#0a00ff"/>
<rect x="560.0" y="414.1" width="5.4" height="5.4" fill="#0a00ff"/>
<rect x="588.8" y="422.7" width="5.4" height="5.4" fill="#0a00ff"/>
<rect x="588.8" y="431.0" width="5.4" height="5.4" fill="#0a00ff"/>
<rect x="556.1" y="438.9" width="5.4" height="5.4" fill="#0a00ff"/>
<rect x="577.9" y="440.8" width="5.4" height="5.4" fill="#0a00ff"/>
<rect x="564.3" y="448.2" width="5.4" height="5.4" fill="#0a00ff"/>
<rect x="602.2" y="446.9" width="5.4" height="5.4" fill="#0a00ff"/>
<rect x="598.8" y="452.6" width="5.4" height="5.4" fill="#0a00ff"/>
<rect x="603.9" y="452.6" width="5.4" height="5.4" fill="#0a00ff"/>
<rect x="587.4" y="456.0" width="5.4" height="5.4" fill="#0a00ff"/>
<rect x="527.8" y="468.2" width="5.4" height="5.4" fill="#0a00ff"/>
<rect x="527.8" y="487.1" width="5.4" height="5.4" fill="#0a00ff"/>
<rect x="546.3" y="481.4" width="5.4" height="5.4" fill="#0a00ff"/>
<rect x="585.2" y="461.8" width="5.4" height="5.4" fill="#0a00ff"/>
<rect x="605.7" y="466.2" width="5.4" height="5.4" fill="#0a00ff"/>
<rect x="583.9" y="472.3" width="5.4" height="5.4" fill="#0a00ff"/>
<rect x="570.4" y="476.6" width="5.4" height="5.4" fill="#0a00ff"/>
<rect x="595.3" y="478.9" width="5.4" height="5.4" fill="#0a00ff"/>
<rect x="585.2" y="490.9" width="5.4" height="5.4" fill="#0a00ff"/>
<rect x="600.0" y="494.3" width="5.4" height="5.4" fill="#0a00ff"/>
<rect x="580.4" y="515.0" width="5.4" height="5.4" fill="#0a00ff"/>
<rect x="588.0" y="513.7" width="5.4" height="5.4" fill="#0a00ff"/>
<rect x="559.2" y="524.7" width="5.4" height="5.4" fill="#0a00ff"/>
<rect x="566.6" y="524.5" width="5.4" height="5.4" fill="#0a00ff"/>
<rect x="583.3" y="528.5" width="5.4" height="5.4" fill="#0a00ff"/>
<rect x="561.1" y="535.9" width="5.4" height="5.4" fill="#0a00ff"/>
<ellipse cx="512.67" cy="426.12" rx="100.44" ry="46.36" transform="rotate(123.74 512.67 426.12)" fill="#cd5555" fill-opacity="0.1" stroke="#F8766D" stroke-width="0.85"/>
<ellipse cx="580.70" cy="451.11" rx="104.88" ry="45.03" transform="rotate(94.36 580.70 451.11)" fill="#00BFC4" fill-opacity="0.1" stroke="#00BFC4" stroke-width="0.85"/>
<rect x="576.0" y="446.9" width="10.2" height="10.2" fill="#0a00ff"/>
<circle cx="512.4" cy="426.7" r="3.65" fill="#ff1100"/>
<line x1="434.2" y1="439.5" x2="634.7" y2="439.5" stroke="#1e1e1e" stroke-width="1.05" stroke-dasharray="3 2.4"/>
<line x1="547.5" y1="331.3" x2="547.5" y2="570.6" stroke="#1e1e1e" stroke-width="1.05" stroke-dasharray="3 2.4"/>
<text x="535.2" y="328.6" font-size="12.5" text-anchor="middle" fill="#1a1a1a">Day +84</text>
<text x="487.4" y="527.2" font-size="12.3" text-anchor="start" fill="#1a1a1a">P &lt; 0.001</text>
<line x1="434.2" y1="345.5" x2="436.6" y2="345.5" stroke="#333" stroke-width="1"/>
<text x="428.0" y="349.8" font-size="12" text-anchor="end" fill="#1a1a1a">20</text>
<line x1="434.2" y1="392.6" x2="436.6" y2="392.6" stroke="#333" stroke-width="1"/>
<text x="428.0" y="396.9" font-size="12" text-anchor="end" fill="#1a1a1a">10</text>
<line x1="434.2" y1="439.3" x2="436.6" y2="439.3" stroke="#333" stroke-width="1"/>
<text x="428.0" y="443.6" font-size="12" text-anchor="end" fill="#1a1a1a">0</text>
<line x1="434.2" y1="486" x2="436.6" y2="486" stroke="#333" stroke-width="1"/>
<text x="428.0" y="490.3" font-size="12" text-anchor="end" fill="#1a1a1a">-10</text>
<line x1="434.2" y1="533.3" x2="436.6" y2="533.3" stroke="#333" stroke-width="1"/>
<text x="428.0" y="537.6" font-size="12" text-anchor="end" fill="#1a1a1a">-20</text>
<line x1="487.6" y1="568.9" x2="487.6" y2="570.9" stroke="#333" stroke-width="1"/>
<text x="487.6" y="588.1" font-size="12" text-anchor="middle" fill="#1a1a1a">-20</text>
<line x1="547.6" y1="568.9" x2="547.6" y2="570.9" stroke="#333" stroke-width="1"/>
<text x="547.6" y="588.1" font-size="12" text-anchor="middle" fill="#1a1a1a">0</text>
<line x1="607.2" y1="568.9" x2="607.2" y2="570.9" stroke="#333" stroke-width="1"/>
<text x="607.2" y="588.1" font-size="12" text-anchor="middle" fill="#1a1a1a">20</text>
<text x="552.6" y="605.6" font-size="12.3" text-anchor="middle" fill="#1a1a1a">PC1 (21.8%)</text>
<text x="410.0" y="448.5" font-size="12.3" text-anchor="middle" fill="#1a1a1a" transform="rotate(-90 410.0 448.5)">PC2 (9.9%)</text>
<text x="629.6" y="505.0" font-size="12.6" text-anchor="start" fill="#1a1a1a">Site</text>
<rect x="623.6" y="516.7" width="12.8" height="12.8" fill="#f8eeee" stroke="#ff4a42" stroke-width="1.2"/>
<circle cx="630.0" cy="523.1" r="2.8" fill="#ff1100"/>
<text x="640.9" y="527.7" font-size="12.3" text-anchor="start" fill="#1a1a1a">Saliva</text>
<rect x="623.8" y="530.9" width="12.4" height="12.4" fill="#b8e8fb" stroke="#7cc8fb" stroke-width="1.6"/>
<rect x="627.0" y="534.1" width="6" height="6" fill="#0a00ff"/>
<text x="640.9" y="541.7" font-size="12.3" text-anchor="start" fill="#1a1a1a">SupraG</text>
<line x1="182.3" y1="651.4" x2="182.3" y2="961.5" stroke="#333" stroke-width="1.1"/>
<line x1="181.8" y1="961" x2="461" y2="961" stroke="#333" stroke-width="1.1"/>
<line x1="179.6" y1="947.2" x2="182.3" y2="947.2" stroke="#333" stroke-width="1"/>
<text x="174.6" y="951.9" font-size="13" text-anchor="end" fill="#1a1a1a">0</text>
<line x1="179.6" y1="874.9" x2="182.3" y2="874.9" stroke="#333" stroke-width="1"/>
<text x="174.6" y="879.6" font-size="13" text-anchor="end" fill="#1a1a1a">1</text>
<line x1="179.6" y1="802.6" x2="182.3" y2="802.6" stroke="#333" stroke-width="1"/>
<text x="174.6" y="807.3" font-size="13" text-anchor="end" fill="#1a1a1a">2</text>
<line x1="179.6" y1="730.3" x2="182.3" y2="730.3" stroke="#333" stroke-width="1"/>
<text x="174.6" y="735.0" font-size="13" text-anchor="end" fill="#1a1a1a">3</text>
<line x1="179.6" y1="658.0" x2="182.3" y2="658.0" stroke="#333" stroke-width="1"/>
<text x="174.6" y="662.7" font-size="13" text-anchor="end" fill="#1a1a1a">4</text>
<line x1="222.6" y1="961" x2="222.6" y2="964" stroke="#333" stroke-width="1"/>
<text x="227.5" y="969.3" font-size="13.6" text-anchor="end" fill="#1a1a1a" transform="rotate(-90 227.5 969.3)">baseline</text>
<line x1="288.8" y1="961" x2="288.8" y2="964" stroke="#333" stroke-width="1"/>
<text x="293.7" y="969.3" font-size="13.6" text-anchor="end" fill="#1a1a1a" transform="rotate(-90 293.7 969.3)">day +14</text>
<line x1="355.0" y1="961" x2="355.0" y2="964" stroke="#333" stroke-width="1"/>
<text x="359.9" y="969.3" font-size="13.6" text-anchor="end" fill="#1a1a1a" transform="rotate(-90 359.9 969.3)">day +28</text>
<line x1="421.0" y1="961" x2="421.0" y2="964" stroke="#333" stroke-width="1"/>
<text x="425.9" y="969.3" font-size="13.6" text-anchor="end" fill="#1a1a1a" transform="rotate(-90 425.9 969.3)">day +84</text>
<text x="325.8" y="1039.3" font-size="14.2" text-anchor="middle" fill="#1a1a1a">Timepoint</text>
<text x="153.0" y="807.3" font-size="13.4" text-anchor="middle" fill="#1a1a1a" transform="rotate(-90 153.0 807.3)">Shannon index</text>
<text x="454.6" y="657.0" font-size="12.8" text-anchor="start" fill="#1a1a1a">Site</text>
<text x="144.0" y="648.4" font-size="13.5" text-anchor="start" fill="#1a1a1a">e</text>
<line x1="205.6" y1="672.3" x2="205.6" y2="826.6" stroke="#f3a09c" stroke-width="1"/>
<line x1="202.3" y1="672.3" x2="208.9" y2="672.3" stroke="#f3a09c" stroke-width="1"/>
<line x1="202.3" y1="826.6" x2="208.9" y2="826.6" stroke="#f3a09c" stroke-width="1"/>
<rect x="198.2" y="717.3" width="15.4" height="53.1" fill="none" stroke="#f3a09c" stroke-width="1"/>
<line x1="198.2" y1="742.5" x2="213.6" y2="742.5" stroke="#f3a09c" stroke-width="1"/>
<line x1="222.1" y1="664.6" x2="222.1" y2="925.9" stroke="#8fdf86" stroke-width="1"/>
<line x1="218.8" y1="664.6" x2="225.4" y2="664.6" stroke="#8fdf86" stroke-width="1"/>
<line x1="218.8" y1="925.9" x2="225.4" y2="925.9" stroke="#8fdf86" stroke-width="1"/>
<rect x="214.2" y="745.2" width="15.5" height="93.7" fill="none" stroke="#8fdf86" stroke-width="1"/>
<line x1="214.2" y1="797.1" x2="229.7" y2="797.1" stroke="#8fdf86" stroke-width="1"/>
<line x1="238.4" y1="681.9" x2="238.4" y2="922.8" stroke="#a3c3f7" stroke-width="1"/>
<line x1="235.0" y1="681.9" x2="241.8" y2="681.9" stroke="#a3c3f7" stroke-width="1"/>
<line x1="235.0" y1="922.8" x2="241.8" y2="922.8" stroke="#a3c3f7" stroke-width="1"/>
<rect x="231.0" y="756.0" width="15.6" height="70.8" fill="none" stroke="#a3c3f7" stroke-width="1"/>
<line x1="231.0" y1="797.3" x2="246.6" y2="797.3" stroke="#a3c3f7" stroke-width="1"/>
<line x1="275.8" y1="700.4" x2="275.8" y2="919.6" stroke="#f3a09c" stroke-width="1"/>
<line x1="270.8" y1="700.4" x2="280.8" y2="700.4" stroke="#f3a09c" stroke-width="1"/>
<line x1="270.8" y1="919.6" x2="280.8" y2="919.6" stroke="#f3a09c" stroke-width="1"/>
<rect x="264.4" y="763.3" width="23.2" height="69.1" fill="none" stroke="#f3a09c" stroke-width="1"/>
<line x1="264.4" y1="794.2" x2="287.6" y2="794.2" stroke="#f3a09c" stroke-width="1"/>
<line x1="300.8" y1="700.4" x2="300.8" y2="933.2" stroke="#a3c3f7" stroke-width="1"/>
<line x1="295.8" y1="700.4" x2="305.8" y2="700.4" stroke="#a3c3f7" stroke-width="1"/>
<line x1="295.8" y1="933.2" x2="305.8" y2="933.2" stroke="#a3c3f7" stroke-width="1"/>
<rect x="289.2" y="774.4" width="23.2" height="65.3" fill="none" stroke="#a3c3f7" stroke-width="1"/>
<line x1="289.2" y1="816.2" x2="312.4" y2="816.2" stroke="#a3c3f7" stroke-width="1"/>
<line x1="342.3" y1="701.2" x2="342.3" y2="869.0" stroke="#f3a09c" stroke-width="1"/>
<line x1="337.4" y1="701.2" x2="347.2" y2="701.2" stroke="#f3a09c" stroke-width="1"/>
<line x1="337.4" y1="869.0" x2="347.2" y2="869.0" stroke="#f3a09c" stroke-width="1"/>
<rect x="330.9" y="741.0" width="22.9" height="52.1" fill="none" stroke="#f3a09c" stroke-width="1"/>
<line x1="330.9" y1="764.4" x2="353.8" y2="764.4" stroke="#f3a09c" stroke-width="1"/>
<line x1="367.3" y1="688.3" x2="367.3" y2="910.1" stroke="#a3c3f7" stroke-width="1"/>
<line x1="362.3" y1="688.3" x2="372.3" y2="688.3" stroke="#a3c3f7" stroke-width="1"/>
<line x1="362.3" y1="910.1" x2="372.3" y2="910.1" stroke="#a3c3f7" stroke-width="1"/>
<rect x="355.6" y="771.5" width="23.2" height="78.7" fill="none" stroke="#a3c3f7" stroke-width="1"/>
<line x1="355.6" y1="815.2" x2="378.8" y2="815.2" stroke="#a3c3f7" stroke-width="1"/>
<line x1="408.4" y1="698.6" x2="408.4" y2="811.3" stroke="#f3a09c" stroke-width="1"/>
<line x1="403.6" y1="698.6" x2="413.2" y2="698.6" stroke="#f3a09c" stroke-width="1"/>
<line x1="403.6" y1="811.3" x2="413.2" y2="811.3" stroke="#f3a09c" stroke-width="1"/>
<rect x="397.3" y="730.5" width="22.4" height="33.7" fill="none" stroke="#f3a09c" stroke-width="1"/>
<line x1="397.3" y1="741.4" x2="419.7" y2="741.4" stroke="#f3a09c" stroke-width="1"/>
<line x1="433.5" y1="728.7" x2="433.5" y2="945.5" stroke="#a3c3f7" stroke-width="1"/>
<line x1="428.6" y1="728.7" x2="438.4" y2="728.7" stroke="#a3c3f7" stroke-width="1"/>
<line x1="428.6" y1="945.5" x2="438.4" y2="945.5" stroke="#a3c3f7" stroke-width="1"/>
<rect x="422.2" y="775.3" width="22.6" height="77.9" fill="none" stroke="#a3c3f7" stroke-width="1"/>
<line x1="422.2" y1="818.2" x2="444.8" y2="818.2" stroke="#a3c3f7" stroke-width="1"/>
<circle cx="203.1" cy="672.3" r="2.25" fill="#ff1100"/>
<circle cx="199.8" cy="686.8" r="2.25" fill="#ff1100"/>
<circle cx="199.8" cy="692.6" r="2.25" fill="#ff1100"/>
<circle cx="204.5" cy="690.2" r="2.25" fill="#ff1100"/>
<circle cx="207.4" cy="691.2" r="2.25" fill="#ff1100"/>
<circle cx="205.0" cy="693.6" r="2.25" fill="#ff1100"/>
<circle cx="200.9" cy="700.7" r="2.25" fill="#ff1100"/>
<circle cx="209.3" cy="701.7" r="2.25" fill="#ff1100"/>
<circle cx="211.7" cy="701.0" r="2.25" fill="#ff1100"/>
<circle cx="209.8" cy="705.5" r="2.25" fill="#ff1100"/>
<circle cx="199.6" cy="709.9" r="2.25" fill="#ff1100"/>
<circle cx="205.5" cy="715.6" r="2.25" fill="#ff1100"/>
<circle cx="199.9" cy="718.0" r="2.25" fill="#ff1100"/>
<circle cx="199.8" cy="723.8" r="2.25" fill="#ff1100"/>
<circle cx="203.6" cy="723.8" r="2.25" fill="#ff1100"/>
<circle cx="206.9" cy="725.2" r="2.25" fill="#ff1100"/>
<circle cx="200.7" cy="727.1" r="2.25" fill="#ff1100"/>
<circle cx="207.9" cy="728.6" r="2.25" fill="#ff1100"/>
<circle cx="200.5" cy="731.4" r="2.25" fill="#ff1100"/>
<circle cx="203.6" cy="734.3" r="2.25" fill="#ff1100"/>
<circle cx="206.9" cy="734.8" r="2.25" fill="#ff1100"/>
<circle cx="200.7" cy="736.7" r="2.25" fill="#ff1100"/>
<circle cx="210.3" cy="738.1" r="2.25" fill="#ff1100"/>
<circle cx="209.8" cy="741.5" r="2.25" fill="#ff1100"/>
<circle cx="202.1" cy="742.5" r="2.25" fill="#ff1100"/>
<circle cx="199.3" cy="746.8" r="2.25" fill="#ff1100"/>
<circle cx="200.7" cy="748.2" r="2.25" fill="#ff1100"/>
<circle cx="203.6" cy="750.6" r="2.25" fill="#ff1100"/>
<circle cx="207.4" cy="750.6" r="2.25" fill="#ff1100"/>
<circle cx="198.8" cy="757.8" r="2.25" fill="#ff1100"/>
<circle cx="204.5" cy="756.8" r="2.25" fill="#ff1100"/>
<circle cx="209.3" cy="756.8" r="2.25" fill="#ff1100"/>
<circle cx="203.6" cy="756.9" r="2.25" fill="#ff1100"/>
<circle cx="207.4" cy="757.4" r="2.25" fill="#ff1100"/>
<circle cx="209.8" cy="756.9" r="2.25" fill="#ff1100"/>
<circle cx="206.5" cy="759.8" r="2.25" fill="#ff1100"/>
<circle cx="209.3" cy="762.7" r="2.25" fill="#ff1100"/>
<circle cx="202.1" cy="769.9" r="2.25" fill="#ff1100"/>
<circle cx="210.8" cy="769.9" r="2.25" fill="#ff1100"/>
<circle cx="200.2" cy="772.7" r="2.25" fill="#ff1100"/>
<circle cx="205.0" cy="772.7" r="2.25" fill="#ff1100"/>
<circle cx="201.7" cy="777.1" r="2.25" fill="#ff1100"/>
<circle cx="203.6" cy="778.0" r="2.25" fill="#ff1100"/>
<circle cx="209.3" cy="776.9" r="2.25" fill="#ff1100"/>
<circle cx="202.1" cy="793.4" r="2.25" fill="#ff1100"/>
<circle cx="203.1" cy="798.9" r="2.25" fill="#ff1100"/>
<circle cx="211.7" cy="806.8" r="2.25" fill="#ff1100"/>
<circle cx="205.0" cy="813.7" r="2.25" fill="#ff1100"/>
<circle cx="201.2" cy="817.3" r="2.25" fill="#ff1100"/>
<circle cx="200.5" cy="820.2" r="2.25" fill="#ff1100"/>
<circle cx="209.8" cy="818.1" r="2.25" fill="#ff1100"/>
<circle cx="200.0" cy="826.7" r="2.25" fill="#ff1100"/>
<circle cx="203.9" cy="850.6" r="2.25" fill="#ff1100"/>
<circle cx="222.8" cy="665.0" r="2.25" fill="#228b22"/>
<circle cx="216.2" cy="690.7" r="2.25" fill="#228b22"/>
<circle cx="216.5" cy="699.1" r="2.25" fill="#228b22"/>
<circle cx="215.6" cy="704.6" r="2.25" fill="#228b22"/>
<circle cx="219.7" cy="710.0" r="2.25" fill="#228b22"/>
<circle cx="223.7" cy="719.6" r="2.25" fill="#228b22"/>
<circle cx="226.6" cy="725.2" r="2.25" fill="#228b22"/>
<circle cx="228.0" cy="727.1" r="2.25" fill="#228b22"/>
<circle cx="222.8" cy="727.6" r="2.25" fill="#228b22"/>
<circle cx="220.4" cy="729.0" r="2.25" fill="#228b22"/>
<circle cx="228.0" cy="733.3" r="2.25" fill="#228b22"/>
<circle cx="218.9" cy="736.7" r="2.25" fill="#228b22"/>
<circle cx="219.5" cy="745.3" r="2.25" fill="#228b22"/>
<circle cx="222.8" cy="744.9" r="2.25" fill="#228b22"/>
<circle cx="224.7" cy="745.3" r="2.25" fill="#228b22"/>
<circle cx="221.3" cy="747.7" r="2.25" fill="#228b22"/>
<circle cx="221.8" cy="750.1" r="2.25" fill="#228b22"/>
<circle cx="229.0" cy="752.0" r="2.25" fill="#228b22"/>
<circle cx="220.7" cy="772.4" r="2.25" fill="#228b22"/>
<circle cx="219.9" cy="783.3" r="2.25" fill="#228b22"/>
<circle cx="223.2" cy="784.7" r="2.25" fill="#228b22"/>
<circle cx="220.4" cy="786.6" r="2.25" fill="#228b22"/>
<circle cx="216.1" cy="793.4" r="2.25" fill="#228b22"/>
<circle cx="224.7" cy="791.0" r="2.25" fill="#228b22"/>
<circle cx="227.1" cy="790.0" r="2.25" fill="#228b22"/>
<circle cx="225.6" cy="793.4" r="2.25" fill="#228b22"/>
<circle cx="227.6" cy="792.9" r="2.25" fill="#228b22"/>
<circle cx="218.9" cy="797.7" r="2.25" fill="#228b22"/>
<circle cx="222.8" cy="800.5" r="2.25" fill="#228b22"/>
<circle cx="225.2" cy="802.0" r="2.25" fill="#228b22"/>
<circle cx="221.8" cy="804.9" r="2.25" fill="#228b22"/>
<circle cx="219.4" cy="808.5" r="2.25" fill="#228b22"/>
<circle cx="228.5" cy="807.5" r="2.25" fill="#228b22"/>
<circle cx="220.8" cy="814.6" r="2.25" fill="#228b22"/>
<circle cx="224.5" cy="814.4" r="2.25" fill="#228b22"/>
<circle cx="220.4" cy="819.2" r="2.25" fill="#228b22"/>
<circle cx="223.7" cy="824.0" r="2.25" fill="#228b22"/>
<circle cx="219.4" cy="837.5" r="2.25" fill="#228b22"/>
<circle cx="218.4" cy="839.9" r="2.25" fill="#228b22"/>
<circle cx="217.0" cy="842.7" r="2.25" fill="#228b22"/>
<circle cx="224.7" cy="848.8" r="2.25" fill="#228b22"/>
<circle cx="217.5" cy="851.4" r="2.25" fill="#228b22"/>
<circle cx="226.6" cy="854.7" r="2.25" fill="#228b22"/>
<circle cx="226.9" cy="856.2" r="2.25" fill="#228b22"/>
<circle cx="217.0" cy="869.4" r="2.25" fill="#228b22"/>
<circle cx="225.6" cy="868.0" r="2.25" fill="#228b22"/>
<circle cx="224.2" cy="875.7" r="2.25" fill="#228b22"/>
<circle cx="227.1" cy="875.7" r="2.25" fill="#228b22"/>
<circle cx="222.8" cy="891.7" r="2.25" fill="#228b22"/>
<circle cx="225.8" cy="896.3" r="2.25" fill="#228b22"/>
<circle cx="223.2" cy="911.8" r="2.25" fill="#228b22"/>
<circle cx="223.2" cy="920.5" r="2.25" fill="#228b22"/>
<circle cx="228.5" cy="925.9" r="2.25" fill="#228b22"/>
<circle cx="232.8" cy="681.9" r="2.25" fill="#0a00ff"/>
<circle cx="240.5" cy="688.3" r="2.25" fill="#0a00ff"/>
<circle cx="241.9" cy="689.2" r="2.25" fill="#0a00ff"/>
<circle cx="232.4" cy="698.5" r="2.25" fill="#0a00ff"/>
<circle cx="242.4" cy="704.9" r="2.25" fill="#0a00ff"/>
<circle cx="241.5" cy="707.0" r="2.25" fill="#0a00ff"/>
<circle cx="244.8" cy="710.3" r="2.25" fill="#0a00ff"/>
<circle cx="235.7" cy="727.1" r="2.25" fill="#0a00ff"/>
<circle cx="236.7" cy="730.8" r="2.25" fill="#0a00ff"/>
<circle cx="245.3" cy="732.4" r="2.25" fill="#0a00ff"/>
<circle cx="233.8" cy="742.6" r="2.25" fill="#0a00ff"/>
<circle cx="239.1" cy="744.4" r="2.25" fill="#0a00ff"/>
<circle cx="241.9" cy="749.0" r="2.25" fill="#0a00ff"/>
<circle cx="234.3" cy="751.8" r="2.25" fill="#0a00ff"/>
<circle cx="232.8" cy="757.1" r="2.25" fill="#0a00ff"/>
<circle cx="236.2" cy="757.9" r="2.25" fill="#0a00ff"/>
<circle cx="240.0" cy="757.4" r="2.25" fill="#0a00ff"/>
<circle cx="244.3" cy="761.2" r="2.25" fill="#0a00ff"/>
<circle cx="237.6" cy="767.3" r="2.25" fill="#0a00ff"/>
<circle cx="241.9" cy="773.2" r="2.25" fill="#0a00ff"/>
<circle cx="237.6" cy="775.6" r="2.25" fill="#0a00ff"/>
<circle cx="236.2" cy="779.0" r="2.25" fill="#0a00ff"/>
<circle cx="240.8" cy="779.9" r="2.25" fill="#0a00ff"/>
<circle cx="232.8" cy="786.6" r="2.25" fill="#0a00ff"/>
<circle cx="241.0" cy="786.2" r="2.25" fill="#0a00ff"/>
<circle cx="243.9" cy="786.2" r="2.25" fill="#0a00ff"/>
<circle cx="232.4" cy="790.0" r="2.25" fill="#0a00ff"/>
<circle cx="236.0" cy="792.9" r="2.25" fill="#0a00ff"/>
<circle cx="241.5" cy="802.0" r="2.25" fill="#0a00ff"/>
<circle cx="242.4" cy="803.9" r="2.25" fill="#0a00ff"/>
<circle cx="239.1" cy="804.9" r="2.25" fill="#0a00ff"/>
<circle cx="236.2" cy="806.8" r="2.25" fill="#0a00ff"/>
<circle cx="233.3" cy="807.7" r="2.25" fill="#0a00ff"/>
<circle cx="238.6" cy="809.2" r="2.25" fill="#0a00ff"/>
<circle cx="245.3" cy="809.5" r="2.25" fill="#0a00ff"/>
<circle cx="241.5" cy="813.7" r="2.25" fill="#0a00ff"/>
<circle cx="235.2" cy="818.8" r="2.25" fill="#0a00ff"/>
<circle cx="241.9" cy="819.7" r="2.25" fill="#0a00ff"/>
<circle cx="232.8" cy="822.1" r="2.25" fill="#0a00ff"/>
<circle cx="238.6" cy="823.6" r="2.25" fill="#0a00ff"/>
<circle cx="233.8" cy="826.0" r="2.25" fill="#0a00ff"/>
<circle cx="239.8" cy="829.6" r="2.25" fill="#0a00ff"/>
<circle cx="237.1" cy="836.5" r="2.25" fill="#0a00ff"/>
<circle cx="244.3" cy="836.0" r="2.25" fill="#0a00ff"/>
<circle cx="245.3" cy="842.1" r="2.25" fill="#0a00ff"/>
<circle cx="235.2" cy="853.8" r="2.25" fill="#0a00ff"/>
<circle cx="239.5" cy="854.2" r="2.25" fill="#0a00ff"/>
<circle cx="235.7" cy="855.3" r="2.25" fill="#0a00ff"/>
<circle cx="239.8" cy="854.5" r="2.25" fill="#0a00ff"/>
<circle cx="239.5" cy="859.1" r="2.25" fill="#0a00ff"/>
<circle cx="243.4" cy="864.9" r="2.25" fill="#0a00ff"/>
<circle cx="243.2" cy="884.0" r="2.25" fill="#0a00ff"/>
<circle cx="244.6" cy="908.7" r="2.25" fill="#0a00ff"/>
<circle cx="243.9" cy="915.5" r="2.25" fill="#0a00ff"/>
<circle cx="234.3" cy="922.9" r="2.25" fill="#0a00ff"/>
<circle cx="280.3" cy="700.4" r="2.25" fill="#ff1100"/>
<circle cx="272.0" cy="709.0" r="2.25" fill="#ff1100"/>
<circle cx="273.7" cy="721.8" r="2.25" fill="#ff1100"/>
<circle cx="277.1" cy="733.3" r="2.25" fill="#ff1100"/>
<circle cx="269.9" cy="741.5" r="2.25" fill="#ff1100"/>
<circle cx="280.9" cy="741.5" r="2.25" fill="#ff1100"/>
<circle cx="269.6" cy="750.6" r="2.25" fill="#ff1100"/>
<circle cx="272.9" cy="750.2" r="2.25" fill="#ff1100"/>
<circle cx="277.5" cy="751.4" r="2.25" fill="#ff1100"/>
<circle cx="272.0" cy="759.5" r="2.25" fill="#ff1100"/>
<circle cx="276.1" cy="763.3" r="2.25" fill="#ff1100"/>
<circle cx="281.6" cy="763.3" r="2.25" fill="#ff1100"/>
<circle cx="272.5" cy="768.8" r="2.25" fill="#ff1100"/>
<circle cx="282.5" cy="768.6" r="2.25" fill="#ff1100"/>
<circle cx="273.9" cy="773.9" r="2.25" fill="#ff1100"/>
<circle cx="275.3" cy="776.8" r="2.25" fill="#ff1100"/>
<circle cx="278.7" cy="776.8" r="2.25" fill="#ff1100"/>
<circle cx="278.2" cy="778.7" r="2.25" fill="#ff1100"/>
<circle cx="282.8" cy="785.2" r="2.25" fill="#ff1100"/>
<circle cx="276.8" cy="786.4" r="2.25" fill="#ff1100"/>
<circle cx="271.5" cy="789.2" r="2.25" fill="#ff1100"/>
<circle cx="271.7" cy="789.6" r="2.25" fill="#ff1100"/>
<circle cx="271.5" cy="794.6" r="2.25" fill="#ff1100"/>
<circle cx="273.4" cy="794.8" r="2.25" fill="#ff1100"/>
<circle cx="276.8" cy="794.1" r="2.25" fill="#ff1100"/>
<circle cx="280.9" cy="798.6" r="2.25" fill="#ff1100"/>
<circle cx="272.3" cy="803.4" r="2.25" fill="#ff1100"/>
<circle cx="280.9" cy="804.0" r="2.25" fill="#ff1100"/>
<circle cx="272.9" cy="814.9" r="2.25" fill="#ff1100"/>
<circle cx="275.3" cy="813.3" r="2.25" fill="#ff1100"/>
<circle cx="278.7" cy="812.0" r="2.25" fill="#ff1100"/>
<circle cx="280.9" cy="820.5" r="2.25" fill="#ff1100"/>
<circle cx="274.9" cy="832.7" r="2.25" fill="#ff1100"/>
<circle cx="282.2" cy="831.8" r="2.25" fill="#ff1100"/>
<circle cx="271.0" cy="840.1" r="2.25" fill="#ff1100"/>
<circle cx="273.4" cy="841.1" r="2.25" fill="#ff1100"/>
<circle cx="277.5" cy="845.2" r="2.25" fill="#ff1100"/>
<circle cx="271.7" cy="847.8" r="2.25" fill="#ff1100"/>
<circle cx="272.0" cy="871.8" r="2.25" fill="#ff1100"/>
<circle cx="273.4" cy="888.6" r="2.25" fill="#ff1100"/>
<circle cx="279.7" cy="887.8" r="2.25" fill="#ff1100"/>
<circle cx="277.3" cy="907.7" r="2.25" fill="#ff1100"/>
<circle cx="277.1" cy="912.3" r="2.25" fill="#ff1100"/>
<circle cx="281.6" cy="919.6" r="2.25" fill="#ff1100"/>
<circle cx="297.9" cy="700.4" r="2.25" fill="#0a00ff"/>
<circle cx="295.3" cy="722.4" r="2.25" fill="#0a00ff"/>
<circle cx="304.3" cy="721.2" r="2.25" fill="#0a00ff"/>
<circle cx="297.4" cy="742.7" r="2.25" fill="#0a00ff"/>
<circle cx="305.8" cy="751.8" r="2.25" fill="#0a00ff"/>
<circle cx="304.1" cy="754.7" r="2.25" fill="#0a00ff"/>
<circle cx="306.5" cy="759.5" r="2.25" fill="#0a00ff"/>
<circle cx="295.3" cy="766.7" r="2.25" fill="#0a00ff"/>
<circle cx="305.8" cy="766.5" r="2.25" fill="#0a00ff"/>
<circle cx="302.2" cy="768.8" r="2.25" fill="#0a00ff"/>
<circle cx="298.2" cy="772.6" r="2.25" fill="#0a00ff"/>
<circle cx="296.0" cy="774.9" r="2.25" fill="#0a00ff"/>
<circle cx="298.4" cy="776.8" r="2.25" fill="#0a00ff"/>
<circle cx="303.1" cy="773.9" r="2.25" fill="#0a00ff"/>
<circle cx="305.8" cy="774.2" r="2.25" fill="#0a00ff"/>
<circle cx="297.9" cy="782.5" r="2.25" fill="#0a00ff"/>
<circle cx="295.0" cy="802.7" r="2.25" fill="#0a00ff"/>
<circle cx="299.3" cy="800.8" r="2.25" fill="#0a00ff"/>
<circle cx="302.2" cy="799.4" r="2.25" fill="#0a00ff"/>
<circle cx="304.1" cy="802.3" r="2.25" fill="#0a00ff"/>
<circle cx="301.2" cy="804.2" r="2.25" fill="#0a00ff"/>
<circle cx="303.9" cy="809.7" r="2.25" fill="#0a00ff"/>
<circle cx="303.9" cy="814.5" r="2.25" fill="#0a00ff"/>
<circle cx="296.9" cy="818.1" r="2.25" fill="#0a00ff"/>
<circle cx="301.2" cy="820.0" r="2.25" fill="#0a00ff"/>
<circle cx="305.8" cy="821.2" r="2.25" fill="#0a00ff"/>
<circle cx="299.3" cy="823.4" r="2.25" fill="#0a00ff"/>
<circle cx="300.3" cy="826.7" r="2.25" fill="#0a00ff"/>
<circle cx="303.9" cy="829.3" r="2.25" fill="#0a00ff"/>
<circle cx="294.7" cy="831.8" r="2.25" fill="#0a00ff"/>
<circle cx="300.7" cy="833.9" r="2.25" fill="#0a00ff"/>
<circle cx="300.1" cy="835.8" r="2.25" fill="#0a00ff"/>
<circle cx="295.3" cy="842.8" r="2.25" fill="#0a00ff"/>
<circle cx="299.8" cy="841.6" r="2.25" fill="#0a00ff"/>
<circle cx="305.1" cy="844.9" r="2.25" fill="#0a00ff"/>
<circle cx="300.3" cy="847.3" r="2.25" fill="#0a00ff"/>
<circle cx="296.9" cy="851.0" r="2.25" fill="#0a00ff"/>
<circle cx="301.2" cy="850.2" r="2.25" fill="#0a00ff"/>
<circle cx="303.6" cy="856.9" r="2.25" fill="#0a00ff"/>
<circle cx="299.3" cy="866.7" r="2.25" fill="#0a00ff"/>
<circle cx="304.9" cy="865.3" r="2.25" fill="#0a00ff"/>
<circle cx="294.5" cy="901.7" r="2.25" fill="#0a00ff"/>
<circle cx="303.6" cy="914.4" r="2.25" fill="#0a00ff"/>
<circle cx="298.4" cy="933.1" r="2.25" fill="#0a00ff"/>
<circle cx="338.3" cy="701.3" r="2.25" fill="#ff1100"/>
<circle cx="339.5" cy="705.7" r="2.25" fill="#ff1100"/>
<circle cx="336.6" cy="709.9" r="2.25" fill="#ff1100"/>
<circle cx="339.0" cy="720.7" r="2.25" fill="#ff1100"/>
<circle cx="337.1" cy="726.0" r="2.25" fill="#ff1100"/>
<circle cx="337.4" cy="727.5" r="2.25" fill="#ff1100"/>
<circle cx="348.3" cy="733.2" r="2.25" fill="#ff1100"/>
<circle cx="336.1" cy="735.6" r="2.25" fill="#ff1100"/>
<circle cx="336.6" cy="737.5" r="2.25" fill="#ff1100"/>
<circle cx="339.5" cy="736.6" r="2.25" fill="#ff1100"/>
<circle cx="344.7" cy="738.5" r="2.25" fill="#ff1100"/>
<circle cx="346.2" cy="740.4" r="2.25" fill="#ff1100"/>
<circle cx="338.3" cy="743.3" r="2.25" fill="#ff1100"/>
<circle cx="336.6" cy="744.4" r="2.25" fill="#ff1100"/>
<circle cx="340.4" cy="747.1" r="2.25" fill="#ff1100"/>
<circle cx="344.7" cy="749.5" r="2.25" fill="#ff1100"/>
<circle cx="342.3" cy="753.8" r="2.25" fill="#ff1100"/>
<circle cx="345.2" cy="755.3" r="2.25" fill="#ff1100"/>
<circle cx="343.3" cy="756.7" r="2.25" fill="#ff1100"/>
<circle cx="344.7" cy="759.6" r="2.25" fill="#ff1100"/>
<circle cx="346.2" cy="762.0" r="2.25" fill="#ff1100"/>
<circle cx="343.8" cy="762.0" r="2.25" fill="#ff1100"/>
<circle cx="337.1" cy="764.4" r="2.25" fill="#ff1100"/>
<circle cx="339.9" cy="766.8" r="2.25" fill="#ff1100"/>
<circle cx="338.5" cy="771.1" r="2.25" fill="#ff1100"/>
<circle cx="346.7" cy="771.6" r="2.25" fill="#ff1100"/>
<circle cx="345.2" cy="773.0" r="2.25" fill="#ff1100"/>
<circle cx="337.1" cy="774.9" r="2.25" fill="#ff1100"/>
<circle cx="338.0" cy="778.8" r="2.25" fill="#ff1100"/>
<circle cx="336.6" cy="778.4" r="2.25" fill="#ff1100"/>
<circle cx="339.0" cy="780.3" r="2.25" fill="#ff1100"/>
<circle cx="344.1" cy="789.9" r="2.25" fill="#ff1100"/>
<circle cx="336.6" cy="793.0" r="2.25" fill="#ff1100"/>
<circle cx="339.0" cy="795.6" r="2.25" fill="#ff1100"/>
<circle cx="346.2" cy="798.5" r="2.25" fill="#ff1100"/>
<circle cx="335.6" cy="816.4" r="2.25" fill="#ff1100"/>
<circle cx="336.6" cy="819.9" r="2.25" fill="#ff1100"/>
<circle cx="342.3" cy="818.6" r="2.25" fill="#ff1100"/>
<circle cx="346.2" cy="816.0" r="2.25" fill="#ff1100"/>
<circle cx="347.6" cy="815.7" r="2.25" fill="#ff1100"/>
<circle cx="347.1" cy="821.2" r="2.25" fill="#ff1100"/>
<circle cx="338.0" cy="829.2" r="2.25" fill="#ff1100"/>
<circle cx="341.7" cy="846.9" r="2.25" fill="#ff1100"/>
<circle cx="338.0" cy="862.7" r="2.25" fill="#ff1100"/>
<circle cx="338.7" cy="869.0" r="2.25" fill="#ff1100"/>
<circle cx="367.5" cy="688.4" r="2.25" fill="#0a00ff"/>
<circle cx="369.4" cy="725.5" r="2.25" fill="#0a00ff"/>
<circle cx="363.2" cy="735.1" r="2.25" fill="#0a00ff"/>
<circle cx="367.3" cy="737.0" r="2.25" fill="#0a00ff"/>
<circle cx="363.9" cy="740.9" r="2.25" fill="#0a00ff"/>
<circle cx="369.0" cy="741.4" r="2.25" fill="#0a00ff"/>
<circle cx="363.9" cy="752.9" r="2.25" fill="#0a00ff"/>
<circle cx="366.3" cy="755.3" r="2.25" fill="#0a00ff"/>
<circle cx="370.6" cy="751.9" r="2.25" fill="#0a00ff"/>
<circle cx="369.7" cy="756.2" r="2.25" fill="#0a00ff"/>
<circle cx="367.7" cy="761.7" r="2.25" fill="#0a00ff"/>
<circle cx="361.0" cy="767.1" r="2.25" fill="#0a00ff"/>
<circle cx="370.9" cy="768.7" r="2.25" fill="#0a00ff"/>
<circle cx="361.0" cy="779.2" r="2.25" fill="#0a00ff"/>
<circle cx="361.0" cy="780.3" r="2.25" fill="#0a00ff"/>
<circle cx="363.0" cy="783.6" r="2.25" fill="#0a00ff"/>
<circle cx="363.4" cy="793.2" r="2.25" fill="#0a00ff"/>
<circle cx="363.0" cy="795.6" r="2.25" fill="#0a00ff"/>
<circle cx="364.9" cy="798.0" r="2.25" fill="#0a00ff"/>
<circle cx="373.5" cy="795.1" r="2.25" fill="#0a00ff"/>
<circle cx="369.2" cy="801.1" r="2.25" fill="#0a00ff"/>
<circle cx="366.3" cy="803.8" r="2.25" fill="#0a00ff"/>
<circle cx="360.6" cy="802.8" r="2.25" fill="#0a00ff"/>
<circle cx="360.7" cy="804.7" r="2.25" fill="#0a00ff"/>
<circle cx="367.1" cy="813.8" r="2.25" fill="#0a00ff"/>
<circle cx="361.5" cy="817.7" r="2.25" fill="#0a00ff"/>
<circle cx="364.4" cy="817.2" r="2.25" fill="#0a00ff"/>
<circle cx="367.3" cy="818.6" r="2.25" fill="#0a00ff"/>
<circle cx="365.4" cy="820.1" r="2.25" fill="#0a00ff"/>
<circle cx="372.8" cy="817.0" r="2.25" fill="#0a00ff"/>
<circle cx="369.7" cy="822.7" r="2.25" fill="#0a00ff"/>
<circle cx="363.4" cy="824.9" r="2.25" fill="#0a00ff"/>
<circle cx="367.7" cy="834.4" r="2.25" fill="#0a00ff"/>
<circle cx="371.6" cy="834.4" r="2.25" fill="#0a00ff"/>
<circle cx="367.7" cy="847.6" r="2.25" fill="#0a00ff"/>
<circle cx="362.5" cy="851.0" r="2.25" fill="#0a00ff"/>
<circle cx="369.2" cy="851.5" r="2.25" fill="#0a00ff"/>
<circle cx="361.5" cy="863.2" r="2.25" fill="#0a00ff"/>
<circle cx="367.1" cy="865.6" r="2.25" fill="#0a00ff"/>
<circle cx="373.2" cy="866.8" r="2.25" fill="#0a00ff"/>
<circle cx="361.0" cy="869.9" r="2.25" fill="#0a00ff"/>
<circle cx="369.2" cy="874.2" r="2.25" fill="#0a00ff"/>
<circle cx="373.5" cy="883.0" r="2.25" fill="#0a00ff"/>
<circle cx="371.1" cy="894.0" r="2.25" fill="#0a00ff"/>
<circle cx="365.8" cy="899.8" r="2.25" fill="#0a00ff"/>
<circle cx="373.0" cy="905.8" r="2.25" fill="#0a00ff"/>
<circle cx="362.0" cy="910.0" r="2.25" fill="#0a00ff"/>
<circle cx="365.8" cy="910.0" r="2.25" fill="#0a00ff"/>
<circle cx="406.7" cy="698.8" r="2.25" fill="#ff1100"/>
<circle cx="412.2" cy="702.7" r="2.25" fill="#ff1100"/>
<circle cx="406.9" cy="708.7" r="2.25" fill="#ff1100"/>
<circle cx="408.8" cy="711.9" r="2.25" fill="#ff1100"/>
<circle cx="403.1" cy="717.3" r="2.25" fill="#ff1100"/>
<circle cx="403.5" cy="722.8" r="2.25" fill="#ff1100"/>
<circle cx="406.4" cy="721.8" r="2.25" fill="#ff1100"/>
<circle cx="402.6" cy="726.2" r="2.25" fill="#ff1100"/>
<circle cx="405.9" cy="728.8" r="2.25" fill="#ff1100"/>
<circle cx="413.6" cy="726.6" r="2.25" fill="#ff1100"/>
<circle cx="404.0" cy="736.5" r="2.25" fill="#ff1100"/>
<circle cx="410.3" cy="735.1" r="2.25" fill="#ff1100"/>
<circle cx="413.6" cy="734.1" r="2.25" fill="#ff1100"/>
<circle cx="412.2" cy="737.0" r="2.25" fill="#ff1100"/>
<circle cx="415.1" cy="738.9" r="2.25" fill="#ff1100"/>
<circle cx="408.3" cy="739.4" r="2.25" fill="#ff1100"/>
<circle cx="402.1" cy="743.2" r="2.25" fill="#ff1100"/>
<circle cx="409.8" cy="744.5" r="2.25" fill="#ff1100"/>
<circle cx="401.6" cy="755.2" r="2.25" fill="#ff1100"/>
<circle cx="402.6" cy="759.0" r="2.25" fill="#ff1100"/>
<circle cx="405.5" cy="757.1" r="2.25" fill="#ff1100"/>
<circle cx="408.8" cy="754.2" r="2.25" fill="#ff1100"/>
<circle cx="409.3" cy="757.1" r="2.25" fill="#ff1100"/>
<circle cx="407.4" cy="760.9" r="2.25" fill="#ff1100"/>
<circle cx="405.5" cy="765.7" r="2.25" fill="#ff1100"/>
<circle cx="402.6" cy="767.9" r="2.25" fill="#ff1100"/>
<circle cx="410.7" cy="771.0" r="2.25" fill="#ff1100"/>
<circle cx="406.4" cy="777.7" r="2.25" fill="#ff1100"/>
<circle cx="405.9" cy="788.8" r="2.25" fill="#ff1100"/>
<circle cx="413.4" cy="798.2" r="2.25" fill="#ff1100"/>
<circle cx="402.6" cy="811.4" r="2.25" fill="#ff1100"/>
<circle cx="402.3" cy="821.2" r="2.25" fill="#ff1100"/>
<circle cx="410.7" cy="889.9" r="2.25" fill="#ff1100"/>
<circle cx="405.3" cy="947.5" r="2.25" fill="#ff1100"/>
<circle cx="437.9" cy="728.8" r="2.25" fill="#0a00ff"/>
<circle cx="430.4" cy="735.8" r="2.25" fill="#0a00ff"/>
<circle cx="434.2" cy="735.1" r="2.25" fill="#0a00ff"/>
<circle cx="431.4" cy="737.9" r="2.25" fill="#0a00ff"/>
<circle cx="431.8" cy="744.2" r="2.25" fill="#0a00ff"/>
<circle cx="434.2" cy="750.2" r="2.25" fill="#0a00ff"/>
<circle cx="431.4" cy="752.3" r="2.25" fill="#0a00ff"/>
<circle cx="430.9" cy="754.7" r="2.25" fill="#0a00ff"/>
<circle cx="428.3" cy="769.1" r="2.25" fill="#0a00ff"/>
<circle cx="437.9" cy="774.4" r="2.25" fill="#0a00ff"/>
<circle cx="431.8" cy="776.8" r="2.25" fill="#0a00ff"/>
<circle cx="433.7" cy="778.2" r="2.25" fill="#0a00ff"/>
<circle cx="428.5" cy="782.8" r="2.25" fill="#0a00ff"/>
<circle cx="427.0" cy="789.2" r="2.25" fill="#0a00ff"/>
<circle cx="439.5" cy="801.3" r="2.25" fill="#0a00ff"/>
<circle cx="430.4" cy="804.7" r="2.25" fill="#0a00ff"/>
<circle cx="433.3" cy="805.1" r="2.25" fill="#0a00ff"/>
<circle cx="433.3" cy="809.0" r="2.25" fill="#0a00ff"/>
<circle cx="429.9" cy="818.1" r="2.25" fill="#0a00ff"/>
<circle cx="429.0" cy="821.9" r="2.25" fill="#0a00ff"/>
<circle cx="436.1" cy="826.7" r="2.25" fill="#0a00ff"/>
<circle cx="438.8" cy="832.0" r="2.25" fill="#0a00ff"/>
<circle cx="427.5" cy="837.9" r="2.25" fill="#0a00ff"/>
<circle cx="431.2" cy="837.5" r="2.25" fill="#0a00ff"/>
<circle cx="434.2" cy="845.9" r="2.25" fill="#0a00ff"/>
<circle cx="437.1" cy="844.0" r="2.25" fill="#0a00ff"/>
<circle cx="427.0" cy="850.7" r="2.25" fill="#0a00ff"/>
<circle cx="435.0" cy="856.0" r="2.25" fill="#0a00ff"/>
<circle cx="433.7" cy="859.3" r="2.25" fill="#0a00ff"/>
<circle cx="436.6" cy="859.8" r="2.25" fill="#0a00ff"/>
<circle cx="436.1" cy="863.6" r="2.25" fill="#0a00ff"/>
<circle cx="433.3" cy="870.8" r="2.25" fill="#0a00ff"/>
<circle cx="435.7" cy="870.1" r="2.25" fill="#0a00ff"/>
<circle cx="437.1" cy="884.7" r="2.25" fill="#0a00ff"/>
<circle cx="437.1" cy="886.5" r="2.25" fill="#0a00ff"/>
<circle cx="439.7" cy="893.0" r="2.25" fill="#0a00ff"/>
<circle cx="435.2" cy="898.0" r="2.25" fill="#0a00ff"/>
<circle cx="432.5" cy="945.5" r="2.25" fill="#0a00ff"/>
<rect x="449.6" y="667.2" width="11.2" height="8" fill="none" stroke="#f3a09c" stroke-width="1"/>
<line x1="455.2" y1="665.6" x2="455.2" y2="676.8" stroke="#f3a09c" stroke-width="1"/>
<line x1="449.6" y1="671.2" x2="460.8" y2="671.2" stroke="#f3a09c" stroke-width="1"/>
<circle cx="455.2" cy="671.2" r="2.5" fill="#ff1100"/>
<text x="465.6" y="675.6" font-size="12.2" text-anchor="start" fill="#1a1a1a">Saliva</text>
<rect x="449.6" y="681.6" width="11.2" height="8" fill="none" stroke="#8fdf86" stroke-width="1"/>
<line x1="455.2" y1="680.0" x2="455.2" y2="691.2" stroke="#8fdf86" stroke-width="1"/>
<line x1="449.6" y1="685.6" x2="460.8" y2="685.6" stroke="#8fdf86" stroke-width="1"/>
<circle cx="455.2" cy="685.6" r="2.5" fill="#228b22"/>
<text x="465.6" y="690.0" font-size="12.2" text-anchor="start" fill="#1a1a1a">SubG</text>
<rect x="449.6" y="696.4" width="11.2" height="8" fill="none" stroke="#a3c3f7" stroke-width="1"/>
<line x1="455.2" y1="694.8" x2="455.2" y2="706.0" stroke="#a3c3f7" stroke-width="1"/>
<line x1="449.6" y1="700.4" x2="460.8" y2="700.4" stroke="#a3c3f7" stroke-width="1"/>
<circle cx="455.2" cy="700.4" r="2.5" fill="#0a00ff"/>
<text x="465.6" y="704.8" font-size="12.2" text-anchor="start" fill="#1a1a1a">SupraG</text>
</svg>
</body></html>
